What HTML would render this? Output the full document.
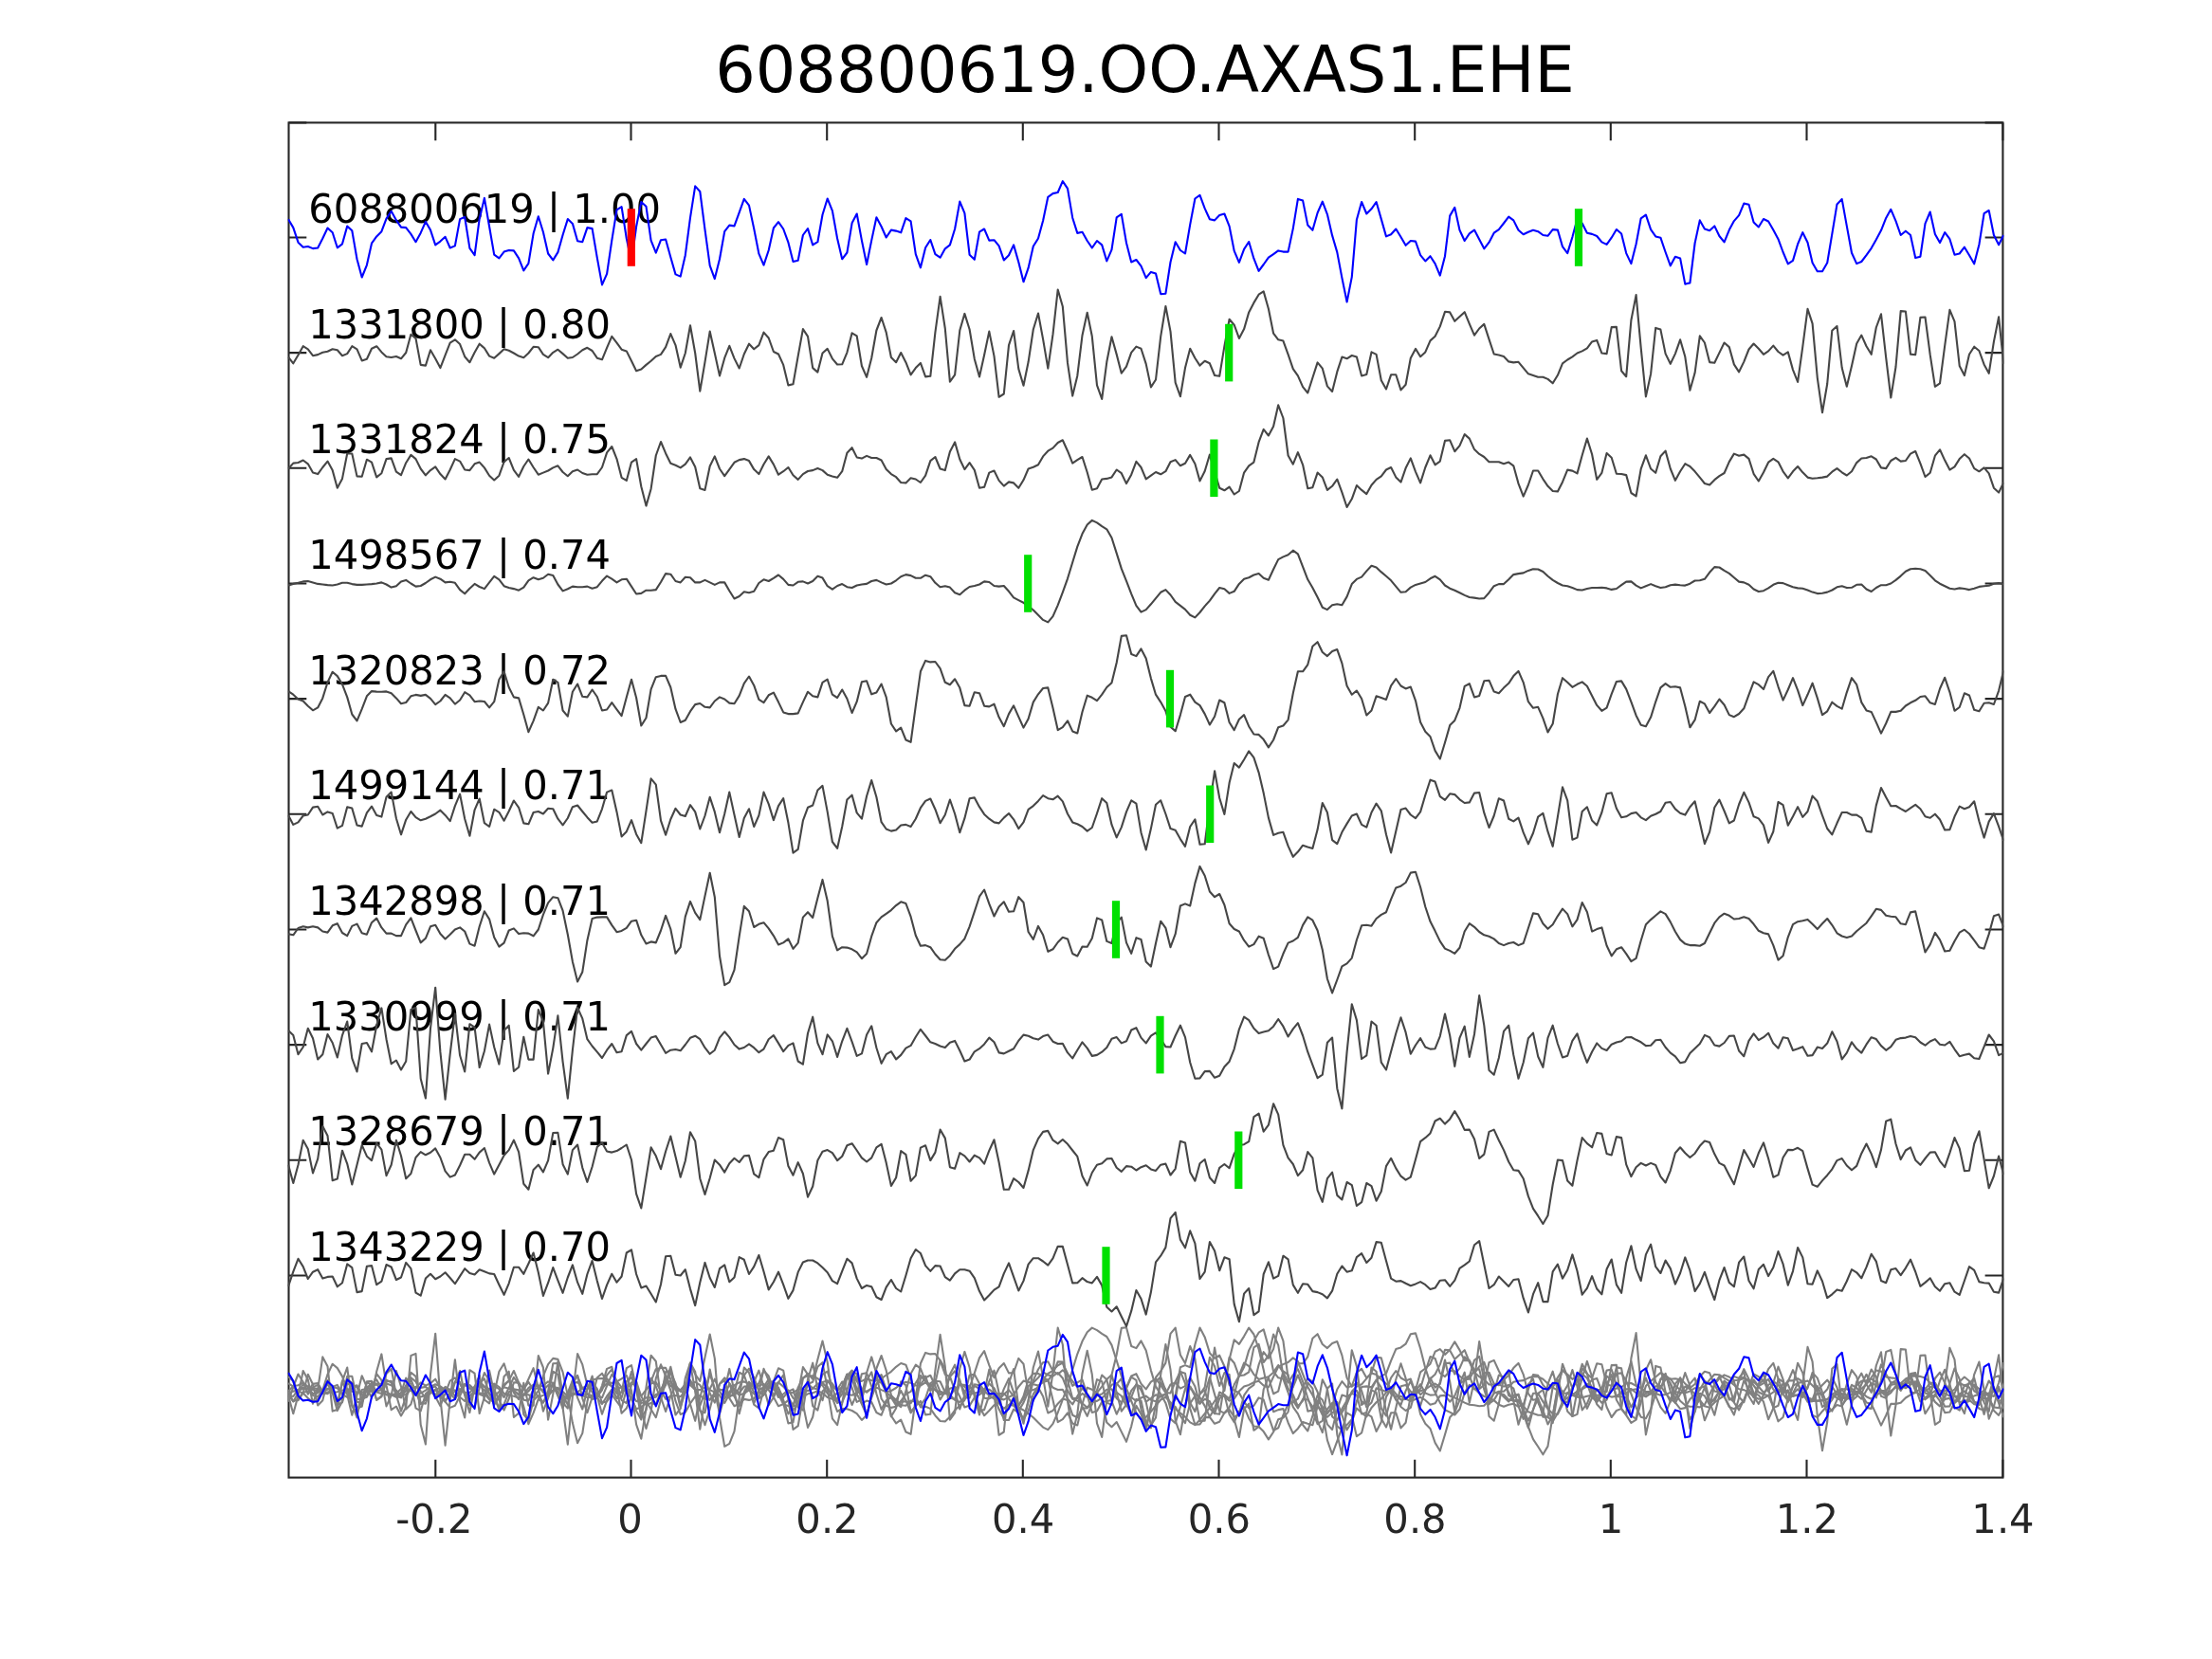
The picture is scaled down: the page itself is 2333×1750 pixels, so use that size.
<!DOCTYPE html><html><head><meta charset="utf-8"><title>608800619.OO.AXAS1.EHE</title><style>html,body{margin:0;padding:0;background:#fff}svg{display:block;will-change:transform}text{font-family:"DejaVu Sans","Liberation Sans",sans-serif}</style></head><body>
<svg width="2333" height="1750" viewBox="0 0 2333 1750">
<rect width="2333" height="1750" fill="#fff"/>
<defs><clipPath id="ax"><rect x="303.5" y="129.4" width="1809.9" height="1429.2"/></clipPath></defs>
<g stroke="#262626" stroke-width="2.1" fill="none">
<rect x="304.5" y="129.4" width="1807.9" height="1429.2"/>
<path d="M459.3 1558.6v-18.8M459.3 129.4v18.8"/>
<path d="M665.5 1558.6v-18.8M665.5 129.4v18.8"/>
<path d="M872.2 1558.6v-18.8M872.2 129.4v18.8"/>
<path d="M1078.8 1558.6v-18.8M1078.8 129.4v18.8"/>
<path d="M1285.5 1558.6v-18.8M1285.5 129.4v18.8"/>
<path d="M1492.2 1558.6v-18.8M1492.2 129.4v18.8"/>
<path d="M1698.8 1558.6v-18.8M1698.8 129.4v18.8"/>
<path d="M1905.5 1558.6v-18.8M1905.5 129.4v18.8"/>
<path d="M2112.4 1558.6v-18.8M2112.4 129.4v18.8"/>
<path d="M304.5 250.5h18.8M2112.4 250.5h-18.8"/>
<path d="M304.5 372.1h18.8M2112.4 372.1h-18.8"/>
<path d="M304.5 493.8h18.8M2112.4 493.8h-18.8"/>
<path d="M304.5 615.5h18.8M2112.4 615.5h-18.8"/>
<path d="M304.5 737.1h18.8M2112.4 737.1h-18.8"/>
<path d="M304.5 858.8h18.8M2112.4 858.8h-18.8"/>
<path d="M304.5 980.5h18.8M2112.4 980.5h-18.8"/>
<path d="M304.5 1102.1h18.8M2112.4 1102.1h-18.8"/>
<path d="M304.5 1223.8h18.8M2112.4 1223.8h-18.8"/>
<path d="M304.5 1345.5h18.8M2112.4 1345.5h-18.8"/>
<path d="M304.5 129.4h18.8M2112.4 129.4h-18.8"/>
</g>
<g font-size="41.67" fill="#000">
<text transform="translate(325.2,234.9) scale(1,1.015)" xml:space="preserve">608800619 | 1.00</text>
<text transform="translate(325.2,356.5) scale(1,1.015)" xml:space="preserve">1331800 | 0.80</text>
<text transform="translate(325.2,478.2) scale(1,1.015)" xml:space="preserve">1331824 | 0.75</text>
<text transform="translate(325.2,599.9) scale(1,1.015)" xml:space="preserve">1498567 | 0.74</text>
<text transform="translate(325.2,721.5) scale(1,1.015)" xml:space="preserve">1320823 | 0.72</text>
<text transform="translate(325.2,843.2) scale(1,1.015)" xml:space="preserve">1499144 | 0.71</text>
<text transform="translate(325.2,964.9) scale(1,1.015)" xml:space="preserve">1342898 | 0.71</text>
<text transform="translate(325.2,1086.5) scale(1,1.015)" xml:space="preserve">1330999 | 0.71</text>
<text transform="translate(325.2,1208.2) scale(1,1.015)" xml:space="preserve">1328679 | 0.71</text>
<text transform="translate(325.2,1329.9) scale(1,1.015)" xml:space="preserve">1343229 | 0.70</text>
</g>
<g fill="none" stroke-linejoin="round" clip-path="url(#ax)" stroke-width="2.1">
<polyline stroke="#808080" points="304.1,1478.6 309.3,1463.0 314.5,1449.5 319.7,1457.8 324.8,1470.7 330.0,1463.4 335.2,1460.9 340.3,1470.3 345.5,1468.6 350.7,1468.2 355.8,1479.0 361.0,1474.9 366.2,1455.1 371.3,1458.8 376.5,1484.8 381.7,1483.8 386.9,1457.4 392.0,1456.8 397.2,1476.9 402.4,1473.4 407.5,1455.7 412.7,1458.2 417.9,1471.7 423.0,1469.2 428.2,1453.6 433.4,1459.9 438.5,1485.3 443.7,1488.4 448.9,1470.3 454.0,1465.5 459.2,1470.9 464.4,1468.2 469.6,1464.0 474.7,1469.7 479.9,1475.9 485.1,1467.8 490.2,1459.9 495.4,1464.7 500.6,1466.1 505.7,1460.9 510.9,1463.0 516.1,1465.1 521.2,1465.7 526.4,1476.9 531.6,1487.5 536.7,1475.5 541.9,1458.4 547.1,1458.4 552.3,1465.5 557.4,1454.7 562.6,1443.2 567.8,1464.0 572.9,1488.6 578.1,1474.9 583.3,1458.8 588.4,1472.4 593.6,1485.5 598.8,1469.2 603.9,1456.1 609.1,1474.4 614.3,1486.5 619.4,1465.7 624.6,1451.6 629.8,1472.8 635.0,1491.7 640.1,1477.1 645.3,1465.5 650.5,1474.4 655.6,1468.2 660.8,1443.2 666.0,1440.1 671.1,1465.7 676.3,1480.1 681.5,1478.2 686.6,1486.5 691.8,1495.2 697.0,1476.5 702.1,1447.0 707.3,1446.4 712.5,1466.5 717.7,1467.2 722.8,1460.9 728.0,1481.3 733.2,1498.8 738.3,1474.4 743.5,1453.6 748.7,1469.7 753.8,1479.6 759.0,1459.9 764.2,1456.1 769.3,1474.0 774.5,1469.2 779.7,1447.8 784.8,1450.5 790.0,1465.7 795.2,1457.8 800.4,1445.7 805.5,1463.0 810.7,1482.1 815.9,1474.0 821.0,1463.4 826.2,1476.9 831.4,1491.5 836.5,1482.8 841.7,1463.6 846.9,1453.2 852.0,1451.2 857.2,1451.2 862.4,1454.1 867.5,1458.8 872.7,1464.0 877.9,1472.8 883.1,1475.9 888.2,1462.6 893.4,1449.5 898.6,1454.1 903.7,1470.3 908.9,1480.7 914.1,1477.6 919.2,1479.0 924.4,1490.0 929.6,1492.7 934.7,1479.6 939.9,1471.7 945.1,1480.7 950.2,1484.2 955.4,1467.2 960.6,1448.9 965.8,1439.7 970.9,1443.7 976.1,1456.8 981.3,1462.6 986.4,1456.8 991.6,1457.2 996.8,1468.8 1001.9,1472.4 1007.1,1465.1 1012.3,1460.9 1017.4,1460.9 1022.6,1462.4 1027.8,1469.9 1033.0,1483.8 1038.1,1493.2 1043.3,1488.0 1048.5,1482.3 1053.6,1479.0 1058.8,1465.1 1064.0,1454.1 1069.1,1468.6 1074.3,1483.2 1079.5,1472.8 1084.6,1455.3 1089.8,1448.9 1095.0,1448.9 1100.1,1452.2 1105.3,1456.3 1110.5,1449.1 1115.7,1436.4 1120.8,1436.6 1126.0,1455.7 1131.2,1475.1 1136.3,1474.9 1141.5,1469.9 1146.7,1473.8 1151.8,1475.1 1157.0,1468.6 1162.2,1477.6 1167.3,1500.4 1172.5,1505.2 1177.7,1500.0 1182.8,1510.4 1188.0,1520.8 1193.2,1504.6 1198.4,1482.8 1203.5,1491.7 1208.7,1508.3 1213.9,1484.8 1219.0,1453.0 1224.2,1446.4 1229.4,1437.6 1234.5,1406.9 1239.7,1400.6 1244.9,1429.3 1250.0,1438.0 1255.2,1420.0 1260.4,1433.3 1265.5,1470.7 1270.7,1463.4 1275.9,1431.8 1281.1,1441.2 1286.2,1462.0 1291.4,1448.0 1296.6,1449.9 1301.7,1497.3 1306.9,1516.0 1312.1,1486.3 1317.2,1480.7 1322.4,1508.8 1327.6,1505.0 1332.7,1465.7 1337.9,1453.0 1343.1,1470.3 1348.2,1467.6 1353.4,1446.4 1358.6,1450.1 1363.8,1477.1 1368.9,1485.5 1374.1,1475.9 1379.3,1476.5 1384.4,1483.8 1389.6,1484.8 1394.8,1486.9 1399.9,1491.1 1405.1,1483.4 1410.3,1465.5 1415.4,1457.2 1420.6,1463.4 1425.8,1462.0 1430.9,1447.8 1436.1,1443.9 1441.3,1453.6 1446.5,1448.4 1451.6,1431.8 1456.8,1432.4 1462.0,1451.6 1467.1,1470.3 1472.3,1473.4 1477.5,1472.8 1482.6,1475.5 1487.8,1478.0 1493.0,1476.1 1498.1,1473.8 1503.3,1476.9 1508.5,1481.7 1513.6,1480.3 1518.8,1472.4 1524.0,1471.9 1529.2,1478.6 1534.3,1472.4 1539.5,1459.5 1544.7,1456.1 1549.8,1452.2 1555.0,1434.9 1560.2,1430.8 1565.3,1455.7 1570.5,1480.7 1575.7,1476.9 1580.8,1468.2 1586.0,1473.4 1591.2,1478.6 1596.3,1471.7 1601.5,1470.9 1606.7,1491.1 1611.9,1506.1 1617.0,1486.9 1622.2,1474.9 1627.4,1494.8 1632.5,1494.8 1637.7,1463.0 1642.9,1455.3 1648.0,1470.3 1653.2,1461.5 1658.4,1445.1 1663.5,1462.5 1668.7,1487.4 1673.9,1480.6 1679.1,1467.8 1684.2,1481.2 1689.4,1487.0 1694.6,1460.4 1699.7,1450.2 1704.9,1476.8 1710.1,1485.5 1715.2,1453.4 1720.4,1436.0 1725.6,1460.4 1730.7,1472.7 1735.9,1445.1 1741.1,1434.3 1746.2,1457.9 1751.4,1464.7 1756.6,1451.3 1761.8,1459.8 1766.9,1476.3 1772.1,1464.7 1777.3,1448.1 1782.4,1461.9 1787.6,1483.8 1792.8,1475.9 1797.9,1463.6 1803.1,1479.1 1808.3,1492.7 1813.4,1472.1 1818.6,1458.7 1823.8,1474.6 1828.9,1478.9 1834.1,1453.4 1839.3,1447.2 1844.5,1472.7 1849.6,1481.0 1854.8,1460.8 1860.0,1455.5 1865.1,1467.8 1870.3,1458.7 1875.5,1441.7 1880.6,1455.1 1885.8,1477.4 1891.0,1462.5 1896.1,1437.7 1901.3,1448.1 1906.5,1475.9 1911.6,1476.3 1916.8,1462.1 1922.0,1473.2 1927.2,1490.8 1932.3,1487.0 1937.5,1482.1 1942.7,1483.4 1947.8,1473.2 1953.0,1460.8 1958.2,1464.0 1963.3,1470.0 1968.5,1458.3 1973.7,1444.5 1978.8,1452.3 1984.0,1472.7 1989.2,1474.9 1994.3,1461.0 1999.5,1459.8 2004.7,1466.8 2009.9,1459.3 2015.0,1450.4 2020.2,1463.2 2025.4,1478.5 2030.5,1474.6 2035.7,1470.0 2040.9,1478.9 2046.0,1483.4 2051.2,1475.9 2056.4,1474.9 2061.5,1484.4 2066.7,1487.6 2071.9,1472.7 2077.0,1457.9 2082.2,1461.5 2087.4,1473.8 2092.6,1474.9 2097.7,1475.3 2102.9,1484.4 2108.1,1485.3 2113.2,1470.0"/>
<polyline stroke="#808080" points="304.1,1472.0 309.3,1491.3 314.5,1472.0 319.7,1446.0 324.8,1455.3 330.0,1480.7 335.2,1465.7 340.3,1431.4 345.5,1441.2 350.7,1488.6 355.8,1486.9 361.0,1457.0 366.2,1470.9 371.3,1492.8 376.5,1472.0 381.7,1451.2 386.9,1463.0 392.0,1467.4 397.2,1449.1 402.4,1455.9 407.5,1483.4 412.7,1472.0 417.9,1446.0 423.0,1462.6 428.2,1486.5 433.4,1481.3 438.5,1464.3 443.7,1458.4 448.9,1461.6 454.0,1459.1 459.2,1454.7 464.4,1464.3 469.6,1478.6 474.7,1484.9 479.9,1482.8 485.1,1472.6 490.2,1461.1 495.4,1461.1 500.6,1466.1 505.7,1458.9 510.9,1454.3 516.1,1469.9 521.2,1481.9 526.4,1472.0 531.6,1462.0 536.7,1456.4 541.9,1446.0 547.1,1458.4 552.3,1492.1 557.4,1498.0 562.6,1477.2 567.8,1472.0 572.9,1479.7 578.1,1467.4 583.3,1438.3 588.4,1438.1 593.6,1471.5 598.8,1481.9 603.9,1456.4 609.1,1450.8 614.3,1475.1 619.4,1490.1 624.6,1474.0 629.8,1453.2 635.0,1448.7 640.1,1457.8 645.3,1458.9 650.5,1457.4 655.6,1454.3 660.8,1450.8 666.0,1466.8 671.1,1502.7 676.3,1517.7 681.5,1485.5 686.6,1453.7 691.8,1462.6 697.0,1476.5 702.1,1457.8 707.3,1441.8 712.5,1463.2 717.7,1485.1 722.8,1467.8 728.0,1437.6 733.2,1447.0 738.3,1486.5 743.5,1503.2 748.7,1486.1 753.8,1466.8 759.0,1472.0 764.2,1479.9 769.3,1470.5 774.5,1465.1 779.7,1469.3 784.8,1462.6 790.0,1462.2 795.2,1481.7 800.4,1485.5 805.5,1466.1 810.7,1458.4 815.9,1457.0 821.0,1443.3 826.2,1445.6 831.4,1473.4 836.5,1483.0 841.7,1469.5 846.9,1481.3 852.0,1505.9 857.2,1494.8 862.4,1467.2 867.5,1458.0 872.7,1456.4 877.9,1459.5 883.1,1467.4 888.2,1463.0 893.4,1451.6 898.6,1449.5 903.7,1456.8 908.9,1464.7 914.1,1468.8 919.2,1464.7 924.4,1453.7 929.6,1450.1 934.7,1469.9 939.9,1494.2 945.1,1485.5 950.2,1457.4 955.4,1461.1 960.6,1489.0 965.8,1483.4 970.9,1453.9 976.1,1451.6 981.3,1467.4 986.4,1458.9 991.6,1434.9 996.8,1443.9 1001.9,1474.5 1007.1,1476.1 1012.3,1459.5 1017.4,1462.6 1022.6,1468.8 1027.8,1462.0 1033.0,1464.7 1038.1,1470.9 1043.3,1457.0 1048.5,1445.6 1053.6,1469.3 1058.8,1498.0 1064.0,1498.0 1069.1,1486.5 1074.3,1490.3 1079.5,1496.3 1084.6,1478.2 1089.8,1456.4 1095.0,1444.5 1100.1,1437.2 1105.3,1436.2 1110.5,1446.0 1115.7,1449.7 1120.8,1445.3 1126.0,1450.1 1131.2,1456.8 1136.3,1463.2 1141.5,1483.8 1146.7,1493.8 1151.8,1480.3 1157.0,1472.0 1162.2,1470.5 1167.3,1465.7 1172.5,1465.3 1177.7,1475.1 1182.8,1479.2 1188.0,1473.4 1193.2,1474.0 1198.4,1477.8 1203.5,1474.5 1208.7,1472.6 1213.9,1476.7 1219.0,1478.2 1224.2,1472.0 1229.4,1470.9 1234.5,1482.8 1239.7,1476.1 1244.9,1447.0 1250.0,1448.7 1255.2,1479.7 1260.4,1489.0 1265.5,1470.5 1270.7,1466.3 1275.9,1485.5 1281.1,1491.3 1286.2,1475.1 1291.4,1471.3 1296.6,1475.5 1301.7,1460.5 1306.9,1451.2 1312.1,1450.5 1317.2,1447.4 1322.4,1421.4 1327.6,1417.9 1332.7,1437.0 1337.9,1430.0 1343.1,1407.5 1348.2,1418.9 1353.4,1451.2 1358.6,1464.7 1363.8,1471.3 1368.9,1483.4 1374.1,1477.6 1379.3,1458.4 1384.4,1464.7 1389.6,1499.0 1394.8,1511.1 1399.9,1486.5 1405.1,1479.9 1410.3,1504.2 1415.4,1508.8 1420.6,1490.3 1425.8,1493.4 1430.9,1515.2 1436.1,1511.5 1441.3,1491.3 1446.5,1494.4 1451.6,1510.0 1456.8,1500.0 1462.0,1473.4 1467.1,1465.1 1472.3,1475.7 1477.5,1484.0 1482.6,1488.0 1487.8,1484.9 1493.0,1466.3 1498.1,1447.4 1503.3,1443.5 1508.5,1438.7 1513.6,1425.8 1518.8,1423.1 1524.0,1428.9 1529.2,1423.7 1534.3,1415.4 1539.5,1424.1 1544.7,1435.2 1549.8,1434.9 1555.0,1444.9 1560.2,1465.3 1565.3,1460.9 1570.5,1437.2 1575.7,1434.9 1580.8,1446.0 1586.0,1456.4 1591.2,1468.8 1596.3,1477.6 1601.5,1478.2 1606.7,1486.5 1611.9,1505.2 1617.0,1518.1 1622.2,1526.0 1627.4,1534.3 1632.5,1525.6 1637.7,1492.8 1642.9,1466.8 1648.0,1467.4 1653.2,1488.7 1658.4,1494.0 1663.5,1467.4 1668.7,1443.4 1673.9,1449.4 1679.1,1453.6 1684.2,1438.3 1689.4,1439.2 1694.6,1460.4 1699.7,1461.7 1704.9,1442.4 1710.1,1443.4 1715.2,1471.7 1720.4,1484.4 1725.6,1474.5 1730.7,1470.2 1735.9,1472.8 1741.1,1470.2 1746.2,1472.3 1751.4,1484.4 1756.6,1490.8 1761.8,1478.1 1766.9,1459.6 1772.1,1453.6 1777.3,1459.6 1782.4,1464.3 1787.6,1460.0 1792.8,1452.1 1797.9,1446.8 1803.1,1448.3 1808.3,1460.6 1813.4,1470.2 1818.6,1472.8 1823.8,1483.0 1828.9,1492.5 1834.1,1474.5 1839.3,1456.4 1844.5,1465.3 1849.6,1474.2 1854.8,1459.6 1860.0,1448.7 1865.1,1465.3 1870.3,1485.1 1875.5,1482.7 1880.6,1464.3 1885.8,1456.2 1891.0,1456.4 1896.1,1454.1 1901.3,1457.5 1906.5,1475.9 1911.6,1492.9 1916.8,1495.1 1922.0,1488.7 1927.2,1483.0 1932.3,1476.6 1937.5,1467.4 1942.7,1465.3 1947.8,1472.8 1953.0,1477.6 1958.2,1473.2 1963.3,1460.0 1968.5,1449.8 1973.7,1460.4 1978.8,1474.5 1984.0,1456.2 1989.2,1426.0 1994.3,1423.9 1999.5,1449.8 2004.7,1466.4 2009.9,1456.8 2015.0,1453.6 2020.2,1467.0 2025.4,1472.1 2030.5,1465.3 2035.7,1458.9 2040.9,1458.5 2046.0,1468.1 2051.2,1474.5 2056.4,1459.4 2061.5,1443.4 2066.7,1454.7 2071.9,1478.5 2077.0,1478.1 2082.2,1449.8 2087.4,1436.6 2092.6,1466.4 2097.7,1496.6 2102.9,1483.8 2108.1,1462.8 2113.2,1482.3"/>
<polyline stroke="#808080" points="304.1,1451.9 309.3,1457.1 314.5,1477.2 319.7,1469.5 324.8,1449.8 330.0,1460.2 335.2,1482.4 340.3,1477.2 345.5,1456.0 350.7,1465.0 355.8,1480.4 361.0,1457.1 366.2,1442.5 371.3,1481.4 376.5,1495.5 381.7,1466.0 386.9,1465.0 392.0,1474.3 397.2,1446.7 402.4,1428.4 407.5,1461.2 412.7,1487.2 417.9,1483.5 423.0,1493.5 428.2,1484.5 433.4,1430.0 438.5,1427.9 443.7,1502.8 448.9,1523.6 454.0,1449.8 459.2,1406.7 464.4,1474.7 469.6,1524.7 474.7,1476.8 479.9,1434.2 485.1,1478.3 490.2,1495.5 495.4,1445.2 500.6,1448.7 505.7,1491.0 510.9,1473.7 516.1,1445.6 521.2,1469.5 526.4,1487.6 531.6,1451.9 536.7,1446.7 541.9,1494.9 547.1,1490.8 552.3,1458.7 557.4,1482.6 562.6,1482.6 567.8,1430.0 572.9,1442.5 578.1,1497.6 583.3,1470.6 588.4,1436.3 593.6,1485.1 598.8,1523.6 603.9,1472.7 609.1,1428.0 614.3,1439.4 619.4,1461.2 624.6,1468.5 629.8,1474.7 635.0,1481.0 640.1,1472.7 645.3,1466.0 650.5,1475.2 655.6,1474.3 660.8,1457.1 666.0,1452.9 671.1,1466.0 676.3,1472.7 681.5,1466.0 686.6,1459.6 691.8,1458.1 697.0,1467.0 702.1,1475.8 707.3,1472.7 712.5,1472.0 717.7,1473.3 722.8,1467.0 728.0,1459.8 733.2,1457.7 738.3,1461.2 743.5,1470.2 748.7,1476.8 753.8,1472.7 759.0,1459.6 764.2,1453.3 769.3,1459.1 774.5,1467.0 779.7,1471.6 784.8,1470.0 790.0,1466.4 795.2,1470.2 800.4,1475.2 805.5,1471.6 810.7,1461.2 815.9,1457.1 821.0,1465.4 826.2,1474.1 831.4,1467.9 836.5,1465.4 841.7,1484.5 846.9,1487.6 852.0,1455.0 857.2,1437.7 862.4,1465.4 867.5,1477.2 872.7,1456.4 877.9,1463.3 883.1,1479.9 888.2,1463.3 893.4,1449.8 898.6,1463.9 903.7,1478.9 908.9,1476.4 914.1,1456.6 919.2,1447.3 924.4,1470.2 929.6,1486.8 934.7,1477.2 939.9,1474.1 945.1,1482.4 950.2,1477.9 955.4,1470.6 960.6,1467.9 965.8,1458.7 970.9,1450.8 976.1,1457.5 981.3,1464.3 986.4,1466.0 991.6,1468.5 996.8,1470.0 1001.9,1464.8 1007.1,1462.9 1012.3,1473.3 1017.4,1484.5 1022.6,1482.6 1027.8,1474.3 1033.0,1471.2 1038.1,1466.4 1043.3,1459.6 1048.5,1464.3 1053.6,1475.4 1058.8,1476.4 1064.0,1473.7 1069.1,1471.2 1074.3,1462.7 1079.5,1456.6 1084.6,1457.7 1089.8,1460.2 1095.0,1461.6 1100.1,1458.1 1105.3,1456.6 1110.5,1463.7 1115.7,1466.0 1120.8,1465.8 1126.0,1475.4 1131.2,1481.4 1136.3,1472.7 1141.5,1464.3 1146.7,1470.6 1151.8,1478.9 1157.0,1477.9 1162.2,1474.7 1167.3,1470.0 1172.5,1460.8 1177.7,1459.1 1182.8,1465.4 1188.0,1463.3 1193.2,1451.5 1198.4,1449.2 1203.5,1459.6 1208.7,1465.4 1213.9,1457.7 1219.0,1454.4 1224.2,1461.2 1229.4,1469.1 1234.5,1469.5 1239.7,1457.5 1244.9,1446.7 1250.0,1459.1 1255.2,1485.8 1260.4,1502.8 1265.5,1502.4 1270.7,1495.1 1275.9,1494.9 1281.1,1501.8 1286.2,1499.7 1291.4,1490.3 1296.6,1484.7 1301.7,1471.6 1306.9,1450.8 1312.1,1437.7 1317.2,1441.1 1322.4,1449.8 1327.6,1455.0 1332.7,1453.5 1337.9,1452.3 1343.1,1447.7 1348.2,1440.0 1353.4,1447.7 1358.6,1458.5 1363.8,1450.4 1368.9,1444.2 1374.1,1457.5 1379.3,1474.7 1384.4,1488.3 1389.6,1502.2 1394.8,1498.7 1399.9,1464.8 1405.1,1459.6 1410.3,1513.2 1415.4,1534.4 1420.6,1474.7 1425.8,1424.2 1430.9,1441.1 1436.1,1482.0 1441.3,1478.3 1446.5,1442.5 1451.6,1446.7 1456.8,1485.6 1462.0,1493.5 1467.1,1474.3 1472.3,1455.0 1477.5,1438.3 1482.6,1453.9 1487.8,1476.8 1493.0,1467.5 1498.1,1460.2 1503.3,1469.5 1508.5,1471.6 1513.6,1471.2 1518.8,1458.1 1524.0,1434.6 1529.2,1457.5 1534.3,1489.9 1539.5,1459.8 1544.7,1447.7 1549.8,1479.9 1555.0,1456.0 1560.2,1415.1 1565.3,1446.7 1570.5,1493.9 1575.7,1498.7 1580.8,1481.0 1586.0,1452.9 1591.2,1446.7 1596.3,1477.9 1601.5,1502.8 1606.7,1485.8 1611.9,1460.2 1617.0,1454.6 1622.2,1479.5 1627.4,1490.8 1632.5,1459.8 1637.7,1446.7 1642.9,1466.0 1648.0,1480.4 1653.2,1478.8 1658.4,1462.8 1663.5,1455.4 1668.7,1472.4 1673.9,1485.8 1679.1,1474.5 1684.2,1465.4 1689.4,1470.9 1694.6,1473.0 1699.7,1466.7 1704.9,1464.5 1710.1,1463.3 1715.2,1459.2 1720.4,1459.0 1725.6,1461.8 1730.7,1464.3 1735.9,1468.1 1741.1,1467.7 1746.2,1462.2 1751.4,1461.8 1756.6,1469.8 1761.8,1475.6 1766.9,1479.4 1772.1,1486.2 1777.3,1485.1 1782.4,1476.0 1787.6,1470.9 1792.8,1466.0 1797.9,1456.9 1803.1,1459.2 1808.3,1467.5 1813.4,1468.6 1818.6,1465.0 1823.8,1457.9 1828.9,1457.5 1834.1,1473.5 1839.3,1479.2 1844.5,1462.8 1849.6,1455.4 1854.8,1462.2 1860.0,1459.2 1865.1,1454.8 1870.3,1465.6 1875.5,1470.7 1880.6,1459.2 1885.8,1460.3 1891.0,1473.0 1896.1,1471.3 1901.3,1469.2 1906.5,1478.8 1911.6,1478.1 1916.8,1469.6 1922.0,1470.9 1927.2,1465.6 1932.3,1453.3 1937.5,1463.5 1942.7,1482.4 1947.8,1475.6 1953.0,1464.3 1958.2,1471.3 1963.3,1475.6 1968.5,1466.7 1973.7,1459.2 1978.8,1461.1 1984.0,1468.1 1989.2,1472.8 1994.3,1469.2 1999.5,1461.8 2004.7,1460.1 2009.9,1459.6 2015.0,1457.9 2020.2,1459.2 2025.4,1464.5 2030.5,1467.7 2035.7,1463.5 2040.9,1461.1 2046.0,1466.7 2051.2,1467.5 2056.4,1463.9 2061.5,1471.8 2066.7,1479.2 2071.9,1477.7 2077.0,1476.6 2082.2,1481.3 2087.4,1482.0 2092.6,1469.2 2097.7,1456.5 2102.9,1463.3 2108.1,1478.1 2113.2,1475.6"/>
<polyline stroke="#808080" points="304.1,1471.9 309.3,1473.0 314.5,1465.7 319.7,1464.0 324.8,1465.1 330.0,1464.0 335.2,1465.1 340.3,1469.2 345.5,1470.3 350.7,1463.0 355.8,1460.9 361.0,1470.7 366.2,1473.8 371.3,1463.6 376.5,1461.3 381.7,1470.9 386.9,1472.4 392.0,1459.9 397.2,1455.3 402.4,1465.1 407.5,1471.3 412.7,1471.3 417.9,1473.8 423.0,1473.8 428.2,1462.0 433.4,1455.1 438.5,1468.2 443.7,1481.1 448.9,1476.5 454.0,1464.0 459.2,1462.4 464.4,1471.7 469.6,1477.1 474.7,1472.4 479.9,1467.2 485.1,1465.1 490.2,1469.2 495.4,1482.3 500.6,1484.4 505.7,1464.0 510.9,1448.0 516.1,1456.3 521.2,1475.5 526.4,1485.3 531.6,1481.3 536.7,1468.2 541.9,1466.1 547.1,1471.7 552.3,1470.9 557.4,1471.3 562.6,1474.0 567.8,1467.2 572.9,1451.6 578.1,1439.1 583.3,1432.9 588.4,1433.9 593.6,1447.4 598.8,1472.4 603.9,1501.1 609.1,1522.3 614.3,1511.9 619.4,1478.6 624.6,1455.7 629.8,1454.3 635.0,1454.1 640.1,1454.1 645.3,1462.6 650.5,1469.9 655.6,1468.6 660.8,1465.5 666.0,1458.4 671.1,1457.4 676.3,1473.0 681.5,1482.1 686.6,1480.1 691.8,1481.1 697.0,1468.2 702.1,1452.6 707.3,1466.7 712.5,1492.5 717.7,1485.9 722.8,1453.6 728.0,1437.6 733.2,1449.5 738.3,1456.8 743.5,1431.8 748.7,1407.5 753.8,1432.9 759.0,1495.2 764.2,1525.8 769.3,1522.9 774.5,1509.8 779.7,1474.4 784.8,1442.6 790.0,1448.0 795.2,1464.7 800.4,1461.5 805.5,1459.9 810.7,1466.1 815.9,1473.8 821.0,1483.2 826.2,1481.1 831.4,1477.1 836.5,1487.5 841.7,1481.3 846.9,1454.3 852.0,1448.9 857.2,1454.7 862.4,1433.9 867.5,1414.6 872.7,1437.0 877.9,1474.4 883.1,1489.0 888.2,1485.9 893.4,1486.3 898.6,1488.0 903.7,1491.1 908.9,1497.9 914.1,1492.7 919.2,1474.4 924.4,1459.9 929.6,1454.1 934.7,1450.5 939.9,1446.8 945.1,1441.8 950.2,1438.0 955.4,1439.7 960.6,1453.6 965.8,1473.4 970.9,1484.4 976.1,1483.8 981.3,1485.9 986.4,1493.2 991.6,1499.0 996.8,1499.4 1001.9,1494.6 1007.1,1487.5 1012.3,1482.8 1017.4,1476.9 1022.6,1464.0 1027.8,1448.4 1033.0,1432.4 1038.1,1425.2 1043.3,1440.1 1048.5,1453.2 1053.6,1443.2 1058.8,1438.0 1064.0,1448.4 1069.1,1448.0 1074.3,1432.9 1079.5,1438.7 1084.6,1469.7 1089.8,1477.6 1095.0,1463.6 1100.1,1473.0 1105.3,1490.5 1110.5,1488.0 1115.7,1480.7 1120.8,1475.5 1126.0,1477.1 1131.2,1492.7 1136.3,1495.2 1141.5,1485.3 1146.7,1485.5 1151.8,1476.5 1157.0,1455.1 1162.2,1457.2 1167.3,1479.6 1172.5,1481.7 1177.7,1459.9 1182.8,1454.3 1188.0,1481.1 1193.2,1492.5 1198.4,1475.9 1203.5,1477.6 1208.7,1501.1 1213.9,1506.3 1219.0,1481.7 1224.2,1458.4 1229.4,1465.5 1234.5,1485.9 1239.7,1471.9 1244.9,1442.2 1250.0,1440.1 1255.2,1442.2 1260.4,1418.3 1265.5,1400.6 1270.7,1410.4 1275.9,1427.2 1281.1,1432.9 1286.2,1429.7 1291.4,1441.2 1296.6,1460.9 1301.7,1466.7 1306.9,1469.2 1312.1,1478.6 1317.2,1485.3 1322.4,1482.8 1327.6,1474.4 1332.7,1476.5 1337.9,1493.8 1343.1,1508.8 1348.2,1506.3 1353.4,1492.7 1358.6,1481.3 1363.8,1479.2 1368.9,1475.5 1374.1,1462.6 1379.3,1454.1 1384.4,1457.4 1389.6,1468.2 1394.8,1488.6 1399.9,1519.2 1405.1,1534.1 1410.3,1520.2 1415.4,1506.1 1420.6,1503.1 1425.8,1497.3 1430.9,1478.2 1436.1,1463.0 1441.3,1462.4 1446.5,1463.4 1451.6,1455.7 1456.8,1451.6 1462.0,1448.9 1467.1,1435.3 1472.3,1423.1 1477.5,1421.4 1482.6,1417.7 1487.8,1407.3 1493.0,1406.4 1498.1,1422.5 1503.3,1443.2 1508.5,1458.8 1513.6,1468.8 1518.8,1479.6 1524.0,1487.3 1529.2,1489.6 1534.3,1492.5 1539.5,1486.5 1544.7,1469.2 1549.8,1460.9 1555.0,1464.5 1560.2,1469.7 1565.3,1473.0 1570.5,1474.4 1575.7,1477.1 1580.8,1481.7 1586.0,1483.8 1591.2,1481.7 1596.3,1480.7 1601.5,1483.8 1606.7,1481.7 1611.9,1465.7 1617.0,1450.1 1622.2,1450.9 1627.4,1460.9 1632.5,1466.5 1637.7,1462.0 1642.9,1453.0 1648.0,1445.3 1653.2,1450.8 1658.4,1464.0 1663.5,1456.8 1668.7,1438.7 1673.9,1448.7 1679.1,1469.3 1684.2,1466.8 1689.4,1465.1 1694.6,1484.2 1699.7,1495.0 1704.9,1488.0 1710.1,1485.9 1715.2,1492.9 1720.4,1500.8 1725.6,1497.6 1730.7,1478.9 1735.9,1461.9 1741.1,1456.8 1746.2,1452.5 1751.4,1448.1 1756.6,1450.8 1761.8,1459.3 1766.9,1469.5 1772.1,1477.8 1777.3,1482.3 1782.4,1483.8 1787.6,1483.8 1792.8,1484.4 1797.9,1481.7 1803.1,1471.0 1808.3,1460.4 1813.4,1454.0 1818.6,1450.4 1823.8,1452.5 1828.9,1456.2 1834.1,1455.7 1839.3,1454.0 1844.5,1455.7 1849.6,1461.5 1854.8,1468.5 1860.0,1471.0 1865.1,1472.1 1870.3,1483.8 1875.5,1499.3 1880.6,1495.0 1885.8,1475.3 1891.0,1461.9 1896.1,1458.9 1901.3,1457.9 1906.5,1456.6 1911.6,1461.5 1916.8,1466.8 1922.0,1461.0 1927.2,1455.7 1932.3,1462.5 1937.5,1471.0 1942.7,1474.2 1947.8,1475.7 1953.0,1474.2 1958.2,1468.9 1963.3,1464.7 1968.5,1460.4 1973.7,1453.0 1978.8,1445.5 1984.0,1446.6 1989.2,1452.5 1994.3,1453.4 1999.5,1454.0 2004.7,1461.0 2009.9,1461.9 2015.0,1449.1 2020.2,1448.1 2025.4,1470.0 2030.5,1491.2 2035.7,1483.1 2040.9,1470.6 2046.0,1478.0 2051.2,1490.2 2056.4,1489.5 2061.5,1479.5 2066.7,1470.4 2071.9,1467.4 2077.0,1471.7 2082.2,1478.5 2087.4,1485.9 2092.6,1487.4 2097.7,1472.1 2102.9,1453.0 2108.1,1451.3 2113.2,1464.7"/>
<polyline stroke="#808080" points="304.1,1468.2 309.3,1478.2 314.5,1475.7 319.7,1468.8 324.8,1467.8 330.0,1459.9 335.2,1459.1 340.3,1467.8 345.5,1464.7 350.7,1466.3 355.8,1481.9 361.0,1479.2 366.2,1459.5 371.3,1460.9 376.5,1478.8 381.7,1479.9 386.9,1465.7 392.0,1458.9 397.2,1468.4 402.4,1469.9 407.5,1449.1 412.7,1443.9 417.9,1471.5 423.0,1488.6 428.2,1473.0 433.4,1464.3 438.5,1470.5 443.7,1473.6 448.9,1472.0 454.0,1469.5 459.2,1466.8 464.4,1463.0 469.6,1468.2 474.7,1474.5 479.9,1458.4 485.1,1446.0 490.2,1472.0 495.4,1490.1 500.6,1462.6 505.7,1450.8 510.9,1476.5 516.1,1480.3 521.2,1462.0 526.4,1465.1 531.6,1474.0 536.7,1464.1 541.9,1452.8 547.1,1460.1 552.3,1476.7 557.4,1477.6 562.6,1465.3 567.8,1464.3 572.9,1466.8 578.1,1461.1 583.3,1461.6 588.4,1472.0 593.6,1478.6 598.8,1471.3 603.9,1459.5 609.1,1457.8 614.3,1464.3 619.4,1470.5 624.6,1476.1 629.8,1474.7 635.0,1461.6 640.1,1443.9 645.3,1441.8 650.5,1464.7 655.6,1490.7 660.8,1485.5 666.0,1473.4 671.1,1488.2 676.3,1497.5 681.5,1463.6 686.6,1429.7 691.8,1436.0 697.0,1474.0 702.1,1489.0 707.3,1472.6 712.5,1461.1 717.7,1467.8 722.8,1469.3 728.0,1457.4 733.2,1464.7 738.3,1482.8 743.5,1468.8 748.7,1449.1 753.8,1464.7 759.0,1486.5 764.2,1466.8 769.3,1443.9 774.5,1467.8 779.7,1491.3 784.8,1471.3 790.0,1461.6 795.2,1480.3 800.4,1468.4 805.5,1443.9 810.7,1456.4 815.9,1473.4 821.0,1458.4 826.2,1450.5 831.4,1476.1 836.5,1507.9 841.7,1504.2 846.9,1474.0 852.0,1460.1 857.2,1457.8 862.4,1441.8 867.5,1437.2 872.7,1464.7 877.9,1496.3 883.1,1503.2 888.2,1480.3 893.4,1451.8 898.6,1447.0 903.7,1465.7 908.9,1472.0 914.1,1448.0 919.2,1431.4 924.4,1449.1 929.6,1475.5 934.7,1482.8 939.9,1484.9 945.1,1483.8 950.2,1478.8 955.4,1478.2 960.6,1480.3 965.8,1472.0 970.9,1460.5 976.1,1453.2 981.3,1450.8 986.4,1462.0 991.6,1476.5 996.8,1467.8 1001.9,1451.8 1007.1,1466.8 1012.3,1486.5 1017.4,1471.5 1022.6,1450.5 1027.8,1449.7 1033.0,1459.5 1038.1,1467.2 1043.3,1472.0 1048.5,1475.7 1053.6,1476.7 1058.8,1470.9 1064.0,1466.3 1069.1,1472.6 1074.3,1482.4 1079.5,1475.7 1084.6,1462.2 1089.8,1458.4 1095.0,1453.2 1100.1,1447.4 1105.3,1450.5 1110.5,1451.6 1115.7,1448.0 1120.8,1453.7 1126.0,1466.8 1131.2,1475.7 1136.3,1477.6 1141.5,1480.3 1146.7,1484.9 1151.8,1481.3 1157.0,1466.3 1162.2,1450.5 1167.3,1455.3 1172.5,1478.2 1177.7,1491.7 1182.8,1480.9 1188.0,1464.7 1193.2,1452.6 1198.4,1455.9 1203.5,1486.5 1208.7,1504.8 1213.9,1482.4 1219.0,1457.0 1224.2,1452.6 1229.4,1466.8 1234.5,1482.4 1239.7,1484.0 1244.9,1493.4 1250.0,1501.1 1255.2,1480.3 1260.4,1472.6 1265.5,1499.0 1270.7,1498.6 1275.9,1457.4 1281.1,1421.6 1286.2,1450.1 1291.4,1467.2 1296.6,1434.1 1301.7,1413.3 1306.9,1417.9 1312.1,1409.6 1317.2,1400.6 1322.4,1407.5 1327.6,1423.1 1332.7,1444.9 1337.9,1470.9 1343.1,1489.2 1348.2,1487.1 1353.4,1486.1 1358.6,1500.7 1363.8,1512.1 1368.9,1506.9 1374.1,1500.0 1379.3,1501.7 1384.4,1503.2 1389.6,1483.4 1394.8,1455.3 1399.9,1465.3 1405.1,1494.4 1410.3,1498.4 1415.4,1486.1 1420.6,1477.2 1425.8,1468.8 1430.9,1466.8 1436.1,1478.2 1441.3,1480.9 1446.5,1465.3 1451.6,1455.9 1456.8,1463.6 1462.0,1488.6 1467.1,1507.7 1472.3,1485.1 1477.5,1462.2 1482.6,1460.9 1487.8,1467.8 1493.0,1471.5 1498.1,1464.7 1503.3,1447.0 1508.5,1431.0 1513.6,1432.9 1518.8,1448.5 1524.0,1452.2 1529.2,1445.6 1534.3,1446.4 1539.5,1451.6 1544.7,1455.3 1549.8,1454.7 1555.0,1444.9 1560.2,1444.3 1565.3,1465.7 1570.5,1481.3 1575.7,1468.8 1580.8,1450.5 1586.0,1452.8 1591.2,1472.0 1596.3,1474.7 1601.5,1470.9 1606.7,1486.5 1611.9,1498.6 1617.0,1487.1 1622.2,1469.9 1627.4,1466.1 1632.5,1485.5 1637.7,1501.1 1642.9,1469.9 1648.0,1438.7 1653.2,1452.6 1658.4,1494.0 1663.5,1491.9 1668.7,1464.3 1673.9,1459.6 1679.1,1473.8 1684.2,1478.7 1689.4,1465.3 1694.6,1445.6 1699.7,1444.5 1704.9,1461.1 1710.1,1470.6 1715.2,1469.6 1720.4,1466.4 1725.6,1465.3 1730.7,1470.6 1735.9,1473.4 1741.1,1469.1 1746.2,1467.0 1751.4,1464.3 1756.6,1455.1 1761.8,1454.3 1766.9,1461.7 1772.1,1466.0 1777.3,1467.9 1782.4,1459.6 1787.6,1453.6 1792.8,1475.9 1797.9,1498.3 1803.1,1485.9 1808.3,1460.0 1813.4,1451.9 1818.6,1463.8 1823.8,1476.6 1828.9,1473.8 1834.1,1456.8 1839.3,1444.1 1844.5,1454.7 1849.6,1469.6 1854.8,1471.7 1860.0,1478.7 1865.1,1497.2 1870.3,1485.5 1875.5,1454.3 1880.6,1457.5 1885.8,1479.1 1891.0,1469.6 1896.1,1459.4 1901.3,1470.2 1906.5,1464.3 1911.6,1447.9 1916.8,1453.6 1922.0,1468.5 1927.2,1482.3 1932.3,1488.7 1937.5,1476.6 1942.7,1465.3 1947.8,1465.3 1953.0,1467.9 1958.2,1467.9 1963.3,1471.1 1968.5,1484.9 1973.7,1485.9 1978.8,1457.9 1984.0,1439.4 1989.2,1449.4 1994.3,1458.5 1999.5,1458.3 2004.7,1461.5 2009.9,1464.3 2015.0,1460.6 2020.2,1457.2 2025.4,1461.5 2030.5,1469.6 2035.7,1471.1 2040.9,1467.0 2046.0,1472.8 2051.2,1483.8 2056.4,1483.4 2061.5,1469.6 2066.7,1458.9 2071.9,1461.5 2077.0,1459.6 2082.2,1453.6 2087.4,1474.5 2092.6,1491.9 2097.7,1474.9 2102.9,1466.4 2108.1,1480.2 2113.2,1495.1"/>
<polyline stroke="#808080" points="304.1,1459.1 309.3,1462.7 314.5,1467.5 319.7,1469.5 324.8,1474.7 330.0,1479.3 335.2,1476.4 340.3,1466.4 345.5,1449.8 350.7,1438.8 355.8,1443.1 361.0,1451.9 366.2,1465.4 371.3,1483.5 376.5,1490.3 381.7,1477.9 386.9,1464.3 392.0,1459.1 397.2,1459.6 402.4,1459.8 407.5,1459.4 412.7,1461.2 417.9,1466.4 423.0,1472.2 428.2,1471.0 433.4,1464.3 438.5,1462.9 443.7,1463.9 448.9,1462.9 454.0,1466.8 459.2,1473.1 464.4,1469.5 469.6,1462.9 474.7,1466.4 479.9,1472.7 485.1,1468.5 490.2,1460.2 495.4,1463.3 500.6,1470.2 505.7,1469.5 510.9,1470.0 516.1,1476.4 521.2,1470.2 526.4,1446.7 531.6,1438.3 536.7,1455.0 541.9,1465.4 547.1,1466.4 552.3,1483.7 557.4,1502.2 562.6,1490.3 567.8,1475.8 572.9,1479.5 578.1,1471.6 583.3,1446.7 588.4,1449.8 593.6,1479.5 598.8,1485.6 603.9,1459.8 609.1,1451.5 614.3,1464.8 619.4,1465.4 624.6,1457.5 629.8,1465.0 635.0,1479.5 640.1,1478.5 645.3,1471.2 650.5,1478.3 655.6,1485.1 660.8,1465.4 666.0,1446.7 671.1,1466.0 676.3,1495.5 681.5,1487.2 686.6,1457.1 691.8,1444.2 697.0,1442.9 702.1,1442.9 707.3,1455.0 712.5,1477.9 717.7,1492.0 722.8,1489.7 728.0,1480.4 733.2,1473.1 738.3,1472.0 743.5,1475.8 748.7,1476.4 753.8,1469.5 759.0,1465.4 764.2,1467.5 769.3,1471.6 774.5,1472.2 779.7,1463.9 784.8,1450.8 790.0,1443.5 795.2,1452.9 800.4,1467.9 805.5,1471.2 810.7,1463.3 815.9,1460.6 821.0,1470.6 826.2,1481.4 831.4,1483.1 836.5,1483.1 841.7,1482.4 846.9,1470.6 852.0,1459.8 857.2,1464.3 862.4,1465.4 867.5,1449.8 872.7,1446.7 877.9,1462.7 883.1,1466.0 888.2,1457.5 893.4,1467.0 898.6,1482.0 903.7,1470.2 908.9,1449.2 914.1,1448.3 919.2,1462.3 924.4,1460.6 929.6,1451.5 934.7,1465.4 939.9,1493.5 945.1,1501.4 950.2,1497.6 955.4,1510.5 960.6,1512.8 965.8,1474.7 970.9,1438.3 976.1,1426.9 981.3,1428.4 986.4,1428.0 991.6,1435.2 996.8,1449.8 1001.9,1452.3 1007.1,1446.3 1012.3,1455.6 1017.4,1474.1 1022.6,1474.7 1027.8,1460.2 1033.0,1461.2 1038.1,1474.7 1043.3,1475.4 1048.5,1472.7 1053.6,1486.6 1058.8,1496.2 1064.0,1483.1 1069.1,1474.3 1074.3,1486.2 1079.5,1497.6 1084.6,1488.3 1089.8,1470.6 1095.0,1462.3 1100.1,1456.0 1105.3,1455.4 1110.5,1476.8 1115.7,1500.1 1120.8,1497.2 1126.0,1490.3 1131.2,1501.4 1136.3,1503.4 1141.5,1481.0 1146.7,1463.7 1151.8,1465.8 1157.0,1469.1 1162.2,1462.7 1167.3,1455.0 1172.5,1450.2 1177.7,1429.0 1182.8,1400.9 1188.0,1400.3 1193.2,1420.0 1198.4,1422.1 1203.5,1414.4 1208.7,1424.4 1213.9,1445.6 1219.0,1462.7 1224.2,1470.6 1229.4,1479.9 1234.5,1496.6 1239.7,1501.2 1244.9,1484.1 1250.0,1465.0 1255.2,1462.7 1260.4,1470.6 1265.5,1474.1 1270.7,1483.1 1275.9,1494.5 1281.1,1485.8 1286.2,1468.5 1291.4,1471.2 1296.6,1492.0 1301.7,1500.1 1306.9,1488.7 1312.1,1484.1 1317.2,1496.2 1322.4,1504.5 1327.6,1504.9 1332.7,1510.1 1337.9,1518.4 1343.1,1510.5 1348.2,1497.2 1353.4,1495.5 1358.6,1489.3 1363.8,1461.2 1368.9,1438.3 1374.1,1438.3 1379.3,1431.1 1384.4,1411.7 1389.6,1407.2 1394.8,1418.0 1399.9,1422.1 1405.1,1417.1 1410.3,1415.1 1415.4,1429.6 1420.6,1453.5 1425.8,1462.7 1430.9,1458.5 1436.1,1467.0 1441.3,1484.5 1446.5,1479.5 1451.6,1464.3 1456.8,1466.0 1462.0,1467.9 1467.1,1453.3 1472.3,1446.0 1477.5,1453.5 1482.6,1456.4 1487.8,1454.6 1493.0,1469.1 1498.1,1491.8 1503.3,1501.8 1508.5,1507.0 1513.6,1521.9 1518.8,1530.5 1524.0,1513.2 1529.2,1495.1 1534.3,1489.9 1539.5,1476.8 1544.7,1453.9 1549.8,1451.2 1555.0,1465.4 1560.2,1463.9 1565.3,1448.3 1570.5,1447.7 1575.7,1459.6 1580.8,1461.2 1586.0,1455.6 1591.2,1450.8 1596.3,1443.1 1601.5,1437.9 1606.7,1449.8 1611.9,1470.2 1617.0,1476.8 1622.2,1475.8 1627.4,1487.6 1632.5,1502.4 1637.7,1493.5 1642.9,1462.3 1648.0,1445.2 1653.2,1449.7 1658.4,1454.8 1663.5,1451.8 1668.7,1449.4 1673.9,1453.7 1679.1,1463.9 1684.2,1473.9 1689.4,1479.8 1694.6,1476.6 1699.7,1462.2 1704.9,1449.0 1710.1,1448.4 1715.2,1456.9 1720.4,1470.3 1725.6,1484.7 1730.7,1494.7 1735.9,1496.2 1741.1,1486.6 1746.2,1470.3 1751.4,1455.4 1756.6,1451.1 1761.8,1454.8 1766.9,1454.3 1772.1,1455.4 1777.3,1474.9 1782.4,1497.3 1787.6,1489.4 1792.8,1469.8 1797.9,1472.4 1803.1,1482.0 1808.3,1475.2 1813.4,1467.5 1818.6,1473.5 1823.8,1484.1 1828.9,1486.2 1834.1,1483.0 1839.3,1477.3 1844.5,1462.8 1849.6,1449.4 1854.8,1452.2 1860.0,1457.1 1865.1,1444.1 1870.3,1437.8 1875.5,1454.3 1880.6,1468.6 1885.8,1457.5 1891.0,1445.2 1896.1,1458.2 1901.3,1474.1 1906.5,1462.8 1911.6,1450.7 1916.8,1466.4 1922.0,1484.1 1927.2,1480.3 1932.3,1470.7 1937.5,1474.9 1942.7,1477.7 1947.8,1460.3 1953.0,1445.2 1958.2,1452.2 1963.3,1470.9 1968.5,1479.4 1973.7,1480.9 1978.8,1491.9 1984.0,1503.6 1989.2,1493.0 1994.3,1480.9 1999.5,1480.9 2004.7,1479.8 2009.9,1474.5 2015.0,1471.3 2020.2,1468.8 2025.4,1465.0 2030.5,1464.3 2035.7,1471.3 2040.9,1473.0 2046.0,1456.5 2051.2,1444.8 2056.4,1460.1 2061.5,1479.8 2066.7,1476.0 2071.9,1461.3 2077.0,1463.5 2082.2,1478.8 2087.4,1480.3 2092.6,1471.8 2097.7,1471.3 2102.9,1473.0 2108.1,1458.6 2113.2,1437.3"/>
<polyline stroke="#808080" points="304.1,1469.2 309.3,1467.6 314.5,1466.5 319.7,1465.1 324.8,1464.7 330.0,1466.1 335.2,1467.6 340.3,1468.2 345.5,1468.8 350.7,1469.2 355.8,1468.2 361.0,1466.5 366.2,1466.5 371.3,1467.8 376.5,1468.6 381.7,1468.6 386.9,1468.2 392.0,1467.8 397.2,1467.2 402.4,1466.1 407.5,1468.2 412.7,1471.3 417.9,1469.9 423.0,1465.1 428.2,1463.6 433.4,1467.2 438.5,1470.3 443.7,1469.7 448.9,1466.7 454.0,1463.0 459.2,1460.3 464.4,1462.4 469.6,1466.1 474.7,1465.5 479.9,1466.5 485.1,1473.8 490.2,1478.0 495.4,1472.4 500.6,1467.6 505.7,1470.7 510.9,1472.8 516.1,1466.1 521.2,1459.5 526.4,1463.0 531.6,1469.9 536.7,1471.7 541.9,1472.8 547.1,1474.4 552.3,1471.3 557.4,1464.0 562.6,1460.9 567.8,1463.0 572.9,1461.5 578.1,1457.4 583.3,1458.8 588.4,1468.2 593.6,1475.1 598.8,1473.0 603.9,1470.3 609.1,1470.9 614.3,1470.9 619.4,1470.3 624.6,1472.4 629.8,1470.9 635.0,1464.5 640.1,1459.3 645.3,1462.4 650.5,1466.1 655.6,1463.0 660.8,1462.4 666.0,1470.3 671.1,1478.2 676.3,1477.6 681.5,1474.4 686.6,1474.4 691.8,1473.8 697.0,1465.7 702.1,1456.8 707.3,1457.4 712.5,1464.7 717.7,1466.1 722.8,1460.5 728.0,1460.9 733.2,1466.1 738.3,1466.1 743.5,1463.6 748.7,1466.1 753.8,1468.6 759.0,1466.1 764.2,1466.1 769.3,1474.9 774.5,1483.2 779.7,1480.7 784.8,1475.9 790.0,1476.9 795.2,1475.5 800.4,1466.7 805.5,1463.0 810.7,1464.7 815.9,1461.5 821.0,1458.2 826.2,1462.6 831.4,1468.6 836.5,1469.2 841.7,1465.5 846.9,1465.1 852.0,1467.2 857.2,1464.7 862.4,1459.5 867.5,1461.3 872.7,1469.9 877.9,1473.4 883.1,1469.7 888.2,1467.8 893.4,1470.9 898.6,1471.7 903.7,1469.2 908.9,1468.2 914.1,1467.6 919.2,1464.7 924.4,1463.6 929.6,1466.1 934.7,1468.2 939.9,1467.2 945.1,1464.0 950.2,1459.9 955.4,1457.8 960.6,1458.8 965.8,1461.5 970.9,1461.5 976.1,1458.4 981.3,1459.9 986.4,1466.5 991.6,1470.9 996.8,1469.9 1001.9,1471.3 1007.1,1476.9 1012.3,1479.0 1017.4,1474.4 1022.6,1470.7 1027.8,1469.7 1033.0,1468.2 1038.1,1465.1 1043.3,1465.7 1048.5,1469.7 1053.6,1470.3 1058.8,1469.7 1064.0,1475.5 1069.1,1482.1 1074.3,1484.8 1079.5,1487.5 1084.6,1491.1 1089.8,1495.2 1095.0,1500.4 1100.1,1505.6 1105.3,1508.1 1110.5,1501.9 1115.7,1490.0 1120.8,1476.5 1126.0,1462.0 1131.2,1444.9 1136.3,1428.3 1141.5,1414.8 1146.7,1405.2 1151.8,1400.6 1157.0,1403.1 1162.2,1406.9 1167.3,1410.0 1172.5,1418.9 1177.7,1435.3 1182.8,1451.6 1188.0,1464.5 1193.2,1478.0 1198.4,1490.5 1203.5,1497.3 1208.7,1494.8 1213.9,1489.0 1219.0,1482.8 1224.2,1476.5 1229.4,1473.8 1234.5,1479.2 1239.7,1486.5 1244.9,1490.5 1250.0,1494.6 1255.2,1500.4 1260.4,1503.1 1265.5,1497.7 1270.7,1491.1 1275.9,1485.3 1281.1,1478.0 1286.2,1471.7 1291.4,1473.0 1296.6,1477.6 1301.7,1475.5 1306.9,1467.6 1312.1,1462.4 1317.2,1460.9 1322.4,1458.2 1327.6,1456.8 1332.7,1461.5 1337.9,1463.4 1343.1,1452.2 1348.2,1441.8 1353.4,1439.1 1358.6,1437.0 1363.8,1432.4 1368.9,1436.0 1374.1,1449.5 1379.3,1463.0 1384.4,1471.7 1389.6,1481.7 1394.8,1492.5 1399.9,1494.8 1405.1,1490.0 1410.3,1489.0 1415.4,1490.0 1420.6,1481.1 1425.8,1467.8 1430.9,1462.6 1436.1,1460.3 1441.3,1454.1 1446.5,1448.4 1451.6,1450.1 1456.8,1455.1 1462.0,1459.5 1467.1,1464.0 1472.3,1470.3 1477.5,1476.5 1482.6,1475.9 1487.8,1471.3 1493.0,1468.6 1498.1,1467.2 1503.3,1465.7 1508.5,1462.0 1513.6,1459.5 1518.8,1463.0 1524.0,1469.2 1529.2,1472.4 1534.3,1474.4 1539.5,1476.9 1544.7,1479.6 1549.8,1481.7 1555.0,1482.3 1560.2,1483.2 1565.3,1482.8 1570.5,1476.9 1575.7,1469.9 1580.8,1467.8 1586.0,1467.8 1591.2,1463.0 1596.3,1457.8 1601.5,1456.8 1606.7,1456.1 1611.9,1453.6 1617.0,1452.0 1622.2,1452.2 1627.4,1454.7 1632.5,1459.5 1637.7,1463.6 1642.9,1466.7 1648.0,1469.2 1653.2,1470.0 1658.4,1471.7 1663.5,1473.8 1668.7,1474.2 1673.9,1472.7 1679.1,1471.7 1684.2,1471.7 1689.4,1471.5 1694.6,1472.1 1699.7,1473.6 1704.9,1472.7 1710.1,1468.9 1715.2,1465.3 1720.4,1465.1 1725.6,1469.3 1730.7,1472.1 1735.9,1470.0 1741.1,1467.8 1746.2,1470.0 1751.4,1471.7 1756.6,1471.0 1761.8,1468.9 1766.9,1468.3 1772.1,1468.9 1777.3,1469.3 1782.4,1467.4 1787.6,1464.2 1792.8,1464.0 1797.9,1462.5 1803.1,1455.5 1808.3,1449.8 1813.4,1450.2 1818.6,1453.6 1823.8,1456.6 1828.9,1461.0 1834.1,1465.3 1839.3,1466.1 1844.5,1468.5 1849.6,1473.2 1854.8,1475.7 1860.0,1474.9 1865.1,1472.1 1870.3,1468.5 1875.5,1466.4 1880.6,1466.8 1885.8,1468.9 1891.0,1471.0 1896.1,1472.1 1901.3,1472.5 1906.5,1474.2 1911.6,1476.3 1916.8,1477.8 1922.0,1477.4 1927.2,1476.3 1932.3,1474.2 1937.5,1471.0 1942.7,1470.0 1947.8,1471.7 1953.0,1471.5 1958.2,1468.5 1963.3,1468.3 1968.5,1473.2 1973.7,1475.7 1978.8,1471.7 1984.0,1468.9 1989.2,1468.9 1994.3,1467.2 1999.5,1463.6 2004.7,1459.3 2009.9,1454.5 2015.0,1451.9 2020.2,1451.5 2025.4,1451.9 2030.5,1453.6 2035.7,1458.7 2040.9,1464.0 2046.0,1467.4 2051.2,1470.0 2056.4,1472.5 2061.5,1473.2 2066.7,1472.1 2071.9,1472.7 2077.0,1473.8 2082.2,1472.5 2087.4,1470.6 2092.6,1470.0 2097.7,1469.5 2102.9,1467.4 2108.1,1466.8 2113.2,1467.8"/>
<polyline stroke="#808080" points="304.1,1467.8 309.3,1461.9 314.5,1461.3 319.7,1458.8 324.8,1462.6 330.0,1471.9 335.2,1473.4 340.3,1466.3 345.5,1459.9 350.7,1469.4 355.8,1488.1 361.0,1478.2 366.2,1451.8 371.3,1451.8 376.5,1475.7 381.7,1476.1 386.9,1458.0 392.0,1460.9 397.2,1476.7 402.4,1472.5 407.5,1457.4 412.7,1456.7 417.9,1470.9 423.0,1474.4 428.2,1461.5 433.4,1453.2 438.5,1457.4 443.7,1467.8 448.9,1474.6 454.0,1469.4 459.2,1465.7 464.4,1473.4 469.6,1478.8 474.7,1468.8 479.9,1457.4 485.1,1459.9 490.2,1468.8 495.4,1469.4 500.6,1462.6 505.7,1460.9 510.9,1466.7 516.1,1475.0 521.2,1479.8 526.4,1475.0 531.6,1460.5 536.7,1456.3 541.9,1469.2 547.1,1476.1 552.3,1465.3 557.4,1457.8 562.6,1466.3 567.8,1474.0 572.9,1471.9 578.1,1469.8 583.3,1466.7 588.4,1464.6 593.6,1471.3 598.8,1475.5 603.9,1470.5 609.1,1468.8 614.3,1472.3 619.4,1474.0 624.6,1473.6 629.8,1473.4 635.0,1466.3 640.1,1450.7 645.3,1444.3 650.5,1457.4 655.6,1477.1 660.8,1480.2 666.0,1460.9 671.1,1457.4 676.3,1486.5 681.5,1506.9 686.6,1489.0 691.8,1453.8 697.0,1439.3 702.1,1451.5 707.3,1462.1 712.5,1464.0 717.7,1466.7 722.8,1463.0 728.0,1455.7 733.2,1465.7 738.3,1488.6 743.5,1490.2 748.7,1465.1 753.8,1454.7 759.0,1467.8 764.2,1475.5 769.3,1468.4 774.5,1461.1 779.7,1458.4 784.8,1457.4 790.0,1459.4 795.2,1468.4 800.4,1473.4 805.5,1463.0 810.7,1454.7 815.9,1463.2 821.0,1474.0 826.2,1470.5 831.4,1466.3 836.5,1474.6 841.7,1479.2 846.9,1473.4 852.0,1470.3 857.2,1469.4 862.4,1467.3 867.5,1469.4 872.7,1474.0 877.9,1475.7 883.1,1477.1 888.2,1470.5 893.4,1451.1 898.6,1445.5 903.7,1455.7 908.9,1456.9 914.1,1454.2 919.2,1456.3 924.4,1456.3 929.6,1458.8 934.7,1468.2 939.9,1473.4 945.1,1476.5 950.2,1482.3 955.4,1482.7 960.6,1477.5 965.8,1478.8 970.9,1482.3 976.1,1475.0 981.3,1459.4 986.4,1455.3 991.6,1467.8 996.8,1469.4 1001.9,1449.7 1007.1,1439.7 1012.3,1457.8 1017.4,1468.4 1022.6,1461.5 1027.8,1469.2 1033.0,1488.1 1038.1,1487.1 1043.3,1471.9 1048.5,1469.8 1053.6,1480.2 1058.8,1485.9 1064.0,1481.7 1069.1,1482.7 1074.3,1488.1 1079.5,1479.6 1084.6,1467.8 1089.8,1466.1 1095.0,1463.6 1100.1,1454.7 1105.3,1449.0 1110.5,1445.9 1115.7,1440.3 1120.8,1437.6 1126.0,1449.0 1131.2,1461.9 1136.3,1458.4 1141.5,1455.3 1146.7,1471.5 1151.8,1490.0 1157.0,1488.6 1162.2,1478.8 1167.3,1478.2 1172.5,1476.7 1177.7,1468.8 1182.8,1472.5 1188.0,1483.4 1193.2,1474.0 1198.4,1460.1 1203.5,1466.3 1208.7,1478.6 1213.9,1475.0 1219.0,1471.3 1224.2,1473.6 1229.4,1470.5 1234.5,1460.5 1239.7,1458.4 1244.9,1464.6 1250.0,1462.1 1255.2,1453.2 1260.4,1462.6 1265.5,1480.7 1270.7,1470.3 1275.9,1452.8 1281.1,1470.9 1286.2,1488.1 1291.4,1490.6 1296.6,1486.9 1301.7,1494.8 1306.9,1491.3 1312.1,1471.9 1317.2,1464.6 1322.4,1460.9 1327.6,1439.7 1332.7,1426.2 1337.9,1432.8 1343.1,1423.1 1348.2,1400.6 1353.4,1414.3 1358.6,1453.8 1363.8,1463.0 1368.9,1450.5 1374.1,1463.6 1379.3,1488.6 1384.4,1487.5 1389.6,1471.9 1394.8,1476.7 1399.9,1490.2 1405.1,1486.1 1410.3,1478.8 1415.4,1492.7 1420.6,1508.3 1425.8,1499.6 1430.9,1485.4 1436.1,1490.2 1441.3,1494.4 1446.5,1485.0 1451.6,1479.2 1456.8,1475.7 1462.0,1468.8 1467.1,1466.3 1472.3,1476.7 1477.5,1481.9 1482.6,1467.1 1487.8,1456.7 1493.0,1470.9 1498.1,1482.7 1503.3,1466.3 1508.5,1453.6 1513.6,1463.6 1518.8,1459.9 1524.0,1438.2 1529.2,1437.6 1534.3,1449.5 1539.5,1443.4 1544.7,1431.4 1549.8,1435.9 1555.0,1447.4 1560.2,1452.2 1565.3,1455.3 1570.5,1460.5 1575.7,1460.5 1580.8,1460.5 1586.0,1462.6 1591.2,1460.9 1596.3,1464.6 1601.5,1483.4 1606.7,1496.9 1611.9,1484.8 1617.0,1469.8 1622.2,1469.8 1627.4,1478.6 1632.5,1486.1 1637.7,1491.3 1642.9,1491.7 1648.0,1481.7 1653.2,1468.9 1658.4,1469.9 1663.5,1472.7 1668.7,1453.6 1673.9,1435.9 1679.1,1452.5 1684.2,1479.1 1689.4,1472.1 1694.6,1451.4 1699.7,1456.1 1704.9,1473.1 1710.1,1473.3 1715.2,1474.4 1720.4,1493.3 1725.6,1496.7 1730.7,1468.0 1735.9,1453.6 1741.1,1467.8 1746.2,1472.1 1751.4,1454.6 1756.6,1448.9 1761.8,1467.8 1766.9,1480.1 1772.1,1470.6 1777.3,1462.5 1782.4,1465.3 1787.6,1470.6 1792.8,1476.9 1797.9,1483.3 1803.1,1484.8 1808.3,1479.5 1813.4,1475.5 1818.6,1472.3 1823.8,1460.4 1828.9,1451.9 1834.1,1454.0 1839.3,1452.9 1844.5,1457.2 1849.6,1473.1 1854.8,1480.8 1860.0,1471.6 1865.1,1461.0 1870.3,1457.2 1875.5,1460.6 1880.6,1470.6 1885.8,1477.6 1891.0,1470.6 1896.1,1465.3 1901.3,1471.6 1906.5,1476.9 1911.6,1478.0 1916.8,1477.6 1922.0,1476.9 1927.2,1475.9 1932.3,1471.0 1937.5,1467.4 1942.7,1471.6 1947.8,1474.8 1953.0,1470.6 1958.2,1461.4 1963.3,1456.8 1968.5,1456.3 1973.7,1454.6 1978.8,1457.8 1984.0,1466.7 1989.2,1467.4 1994.3,1459.3 1999.5,1456.1 2004.7,1459.9 2009.9,1459.3 2015.0,1451.9 2020.2,1449.3 2025.4,1462.1 2030.5,1476.3 2035.7,1472.1 2040.9,1454.0 2046.0,1447.6 2051.2,1458.9 2056.4,1468.9 2061.5,1465.7 2066.7,1457.4 2071.9,1452.5 2077.0,1456.8 2082.2,1467.4 2087.4,1470.6 2092.6,1466.7 2097.7,1472.7 2102.9,1488.0 2108.1,1492.9 2113.2,1482.3"/>
<polyline stroke="#808080" points="304.1,1471.6 309.3,1478.3 314.5,1469.5 319.7,1460.2 324.8,1463.3 330.0,1470.2 335.2,1469.1 340.3,1466.8 345.5,1465.8 350.7,1463.3 355.8,1464.3 361.0,1470.2 366.2,1468.1 371.3,1460.2 376.5,1463.3 381.7,1475.4 386.9,1473.7 392.0,1462.7 397.2,1460.2 402.4,1466.4 407.5,1471.2 412.7,1472.0 417.9,1471.0 423.0,1473.3 428.2,1467.0 433.4,1447.7 438.5,1451.9 443.7,1479.9 448.9,1480.6 454.0,1464.3 459.2,1473.3 464.4,1483.1 469.6,1469.5 474.7,1456.6 479.9,1453.3 485.1,1458.1 490.2,1471.2 495.4,1477.2 500.6,1466.8 505.7,1457.7 510.9,1462.3 516.1,1470.6 521.2,1472.7 526.4,1468.1 531.6,1463.3 536.7,1464.8 541.9,1467.5 547.1,1470.6 552.3,1472.2 557.4,1467.5 562.6,1460.8 567.8,1461.2 572.9,1468.9 578.1,1472.2 583.3,1466.8 588.4,1463.7 593.6,1468.1 598.8,1472.7 603.9,1472.0 609.1,1468.5 614.3,1464.3 619.4,1461.8 624.6,1465.0 629.8,1472.7 635.0,1474.3 640.1,1461.8 645.3,1449.8 650.5,1456.6 655.6,1463.7 660.8,1465.4 666.0,1475.8 671.1,1486.2 676.3,1484.5 681.5,1479.9 686.6,1475.8 691.8,1471.0 697.0,1468.9 702.1,1461.2 707.3,1447.1 712.5,1459.1 717.7,1482.6 722.8,1467.5 728.0,1438.3 733.2,1467.5 738.3,1507.6 743.5,1476.8 748.7,1444.6 753.8,1467.5 759.0,1491.4 764.2,1472.7 769.3,1459.8 774.5,1473.1 779.7,1483.5 784.8,1468.5 790.0,1457.7 795.2,1463.3 800.4,1459.1 805.5,1445.6 810.7,1451.5 815.9,1466.0 821.0,1468.5 826.2,1479.9 831.4,1501.4 836.5,1500.3 841.7,1470.6 846.9,1442.1 852.0,1449.8 857.2,1483.1 862.4,1487.6 867.5,1467.5 872.7,1462.9 877.9,1473.3 883.1,1479.5 888.2,1479.3 893.4,1466.8 898.6,1446.3 903.7,1449.4 908.9,1481.0 914.1,1492.8 919.2,1472.7 924.4,1443.5 929.6,1430.0 934.7,1445.6 939.9,1472.0 945.1,1477.2 950.2,1467.0 955.4,1477.2 960.6,1490.3 965.8,1483.1 970.9,1477.9 976.1,1492.4 981.3,1491.8 986.4,1445.6 991.6,1407.8 996.8,1441.5 1001.9,1497.6 1007.1,1490.3 1012.3,1443.5 1017.4,1425.9 1022.6,1442.5 1027.8,1473.7 1033.0,1492.4 1038.1,1469.5 1043.3,1444.6 1048.5,1470.6 1053.6,1513.8 1058.8,1510.5 1064.0,1459.1 1069.1,1444.0 1074.3,1484.1 1079.5,1501.8 1084.6,1476.8 1089.8,1442.5 1095.0,1425.5 1100.1,1452.9 1105.3,1483.7 1110.5,1447.7 1115.7,1400.5 1120.8,1418.2 1126.0,1477.9 1131.2,1512.6 1136.3,1491.4 1141.5,1448.7 1146.7,1424.8 1151.8,1449.8 1157.0,1501.4 1162.2,1515.9 1167.3,1476.8 1172.5,1450.2 1177.7,1468.9 1182.8,1488.7 1188.0,1481.6 1193.2,1466.8 1198.4,1460.6 1203.5,1462.7 1208.7,1478.9 1213.9,1503.4 1219.0,1495.5 1224.2,1449.8 1229.4,1418.0 1234.5,1444.6 1239.7,1498.7 1244.9,1513.2 1250.0,1483.1 1255.2,1462.7 1260.4,1472.7 1265.5,1480.6 1270.7,1475.8 1275.9,1478.3 1281.1,1491.0 1286.2,1491.8 1291.4,1460.2 1296.6,1431.7 1301.7,1437.7 1306.9,1451.9 1312.1,1442.1 1317.2,1424.4 1322.4,1414.4 1327.6,1405.7 1332.7,1402.4 1337.9,1420.7 1343.1,1446.7 1348.2,1453.3 1353.4,1454.6 1358.6,1468.9 1363.8,1484.1 1368.9,1491.4 1374.1,1503.2 1379.3,1509.5 1384.4,1493.5 1389.6,1477.4 1394.8,1483.7 1399.9,1502.4 1405.1,1508.0 1410.3,1487.2 1415.4,1471.6 1420.6,1473.3 1425.8,1470.0 1430.9,1471.6 1436.1,1491.4 1441.3,1489.9 1446.5,1466.4 1451.6,1468.9 1456.8,1496.2 1462.0,1505.5 1467.1,1490.3 1472.3,1490.3 1477.5,1506.4 1482.6,1500.7 1487.8,1472.7 1493.0,1462.9 1498.1,1471.2 1503.3,1466.4 1508.5,1454.4 1513.6,1449.8 1518.8,1439.4 1524.0,1423.8 1529.2,1424.4 1534.3,1433.8 1539.5,1429.0 1544.7,1424.2 1549.8,1436.7 1555.0,1448.7 1560.2,1441.5 1565.3,1436.9 1570.5,1452.9 1575.7,1468.5 1580.8,1469.5 1586.0,1471.0 1591.2,1476.4 1596.3,1477.4 1601.5,1476.8 1606.7,1483.1 1611.9,1489.3 1617.0,1491.0 1622.2,1492.8 1627.4,1492.8 1632.5,1494.9 1637.7,1499.3 1642.9,1490.8 1648.0,1478.3 1653.2,1474.5 1658.4,1471.3 1663.5,1467.5 1668.7,1465.4 1673.9,1462.4 1679.1,1455.4 1684.2,1453.9 1689.4,1467.5 1694.6,1468.1 1699.7,1440.1 1704.9,1439.9 1710.1,1486.2 1715.2,1492.2 1720.4,1432.7 1725.6,1406.1 1730.7,1461.8 1735.9,1513.4 1741.1,1489.4 1746.2,1440.9 1751.4,1442.6 1756.6,1468.1 1761.8,1478.8 1766.9,1468.1 1772.1,1453.3 1777.3,1471.3 1782.4,1506.8 1787.6,1488.3 1792.8,1449.4 1797.9,1456.5 1803.1,1477.1 1808.3,1477.7 1813.4,1467.1 1818.6,1456.5 1823.8,1461.1 1828.9,1479.4 1834.1,1487.3 1839.3,1476.6 1844.5,1463.5 1849.6,1457.5 1854.8,1462.8 1860.0,1468.8 1865.1,1465.4 1870.3,1459.6 1875.5,1466.0 1880.6,1469.6 1885.8,1466.4 1891.0,1485.1 1896.1,1497.9 1901.3,1460.7 1906.5,1420.8 1911.6,1436.3 1916.8,1493.6 1922.0,1530.2 1927.2,1500.0 1932.3,1443.7 1937.5,1439.0 1942.7,1483.0 1947.8,1502.8 1953.0,1480.9 1958.2,1457.5 1963.3,1448.6 1968.5,1460.3 1973.7,1468.8 1978.8,1440.5 1984.0,1426.3 1989.2,1472.4 1994.3,1514.5 1999.5,1482.0 2004.7,1423.1 2009.9,1423.5 2015.0,1468.6 2020.2,1469.2 2025.4,1429.9 2030.5,1429.5 2035.7,1469.2 2040.9,1502.8 2046.0,1499.4 2051.2,1459.6 2056.4,1421.8 2061.5,1434.1 2066.7,1480.9 2071.9,1491.1 2077.0,1468.8 2082.2,1460.7 2087.4,1465.0 2092.6,1479.4 2097.7,1488.8 2102.9,1455.4 2108.1,1429.3 2113.2,1478.8"/>
<polyline stroke="#0000ff" points="304.1,231.3 309.3,240.1 314.5,255.7 319.7,260.7 324.8,260.0 330.0,262.1 335.2,261.5 340.3,251.5 345.5,240.5 350.7,245.3 355.8,261.3 361.0,257.3 366.2,238.6 371.3,243.2 376.5,273.3 381.7,292.5 386.9,279.6 392.0,256.7 397.2,249.4 402.4,244.2 407.5,230.7 412.7,222.8 417.9,232.2 423.0,239.6 428.2,240.1 433.4,246.9 438.5,255.2 443.7,245.7 448.9,233.8 454.0,242.6 459.2,258.4 464.4,254.6 469.6,249.8 474.7,261.5 479.9,259.4 485.1,231.1 490.2,229.0 495.4,261.9 500.6,269.2 505.7,230.7 510.9,208.9 516.1,239.0 521.2,268.6 526.4,272.3 531.6,265.6 536.7,264.0 541.9,264.4 547.1,272.3 552.3,285.4 557.4,277.9 562.6,246.3 567.8,228.2 572.9,244.8 578.1,267.5 583.3,274.4 588.4,266.1 593.6,247.8 598.8,231.1 603.9,235.9 609.1,254.2 614.3,255.2 619.4,240.1 624.6,241.1 629.8,271.9 635.0,300.4 640.1,288.9 645.3,253.6 650.5,221.3 655.6,218.2 660.8,251.5 666.0,276.7 671.1,239.0 676.3,213.0 681.5,217.8 686.6,253.6 691.8,266.7 697.0,253.2 702.1,252.5 707.3,271.3 712.5,289.4 717.7,291.6 722.8,269.2 728.0,229.7 733.2,196.4 738.3,202.0 743.5,242.1 748.7,280.2 753.8,294.1 759.0,273.3 764.2,244.2 769.3,237.6 774.5,238.4 779.7,224.1 784.8,209.9 790.0,216.6 795.2,241.1 800.4,267.7 805.5,279.6 810.7,264.0 815.9,240.5 821.0,234.2 826.2,241.5 831.4,255.7 836.5,276.0 841.7,274.8 846.9,248.0 852.0,241.1 857.2,258.4 862.4,255.2 867.5,226.5 872.7,209.5 877.9,222.4 883.1,251.5 888.2,273.3 893.4,266.5 898.6,235.3 903.7,225.5 908.9,253.6 914.1,279.0 919.2,253.6 924.4,229.3 929.6,239.0 934.7,250.5 939.9,242.6 945.1,243.6 950.2,245.3 955.4,230.1 960.6,233.4 965.8,268.1 970.9,282.3 976.1,261.3 981.3,253.0 986.4,268.1 991.6,271.7 996.8,262.3 1001.9,258.4 1007.1,241.5 1012.3,212.6 1017.4,224.9 1022.6,268.8 1027.8,273.8 1033.0,244.6 1038.1,241.5 1043.3,253.6 1048.5,253.2 1053.6,259.4 1058.8,274.4 1064.0,269.2 1069.1,258.4 1074.3,276.5 1079.5,297.3 1084.6,282.7 1089.8,259.8 1095.0,251.5 1100.1,232.8 1105.3,207.8 1110.5,204.1 1115.7,203.0 1120.8,191.2 1126.0,198.9 1131.2,229.7 1136.3,245.9 1141.5,244.8 1146.7,254.0 1151.8,261.5 1157.0,254.0 1162.2,258.4 1167.3,275.4 1172.5,263.4 1177.7,229.3 1182.8,225.9 1188.0,256.3 1193.2,276.5 1198.4,274.0 1203.5,280.6 1208.7,293.1 1213.9,286.9 1219.0,288.5 1224.2,310.1 1229.4,309.7 1234.5,276.5 1239.7,255.2 1244.9,264.0 1250.0,267.5 1255.2,236.9 1260.4,209.5 1265.5,205.8 1270.7,219.9 1275.9,231.3 1281.1,232.4 1286.2,227.0 1291.4,225.5 1296.6,238.6 1301.7,264.6 1306.9,276.9 1312.1,262.9 1317.2,255.0 1322.4,272.7 1327.6,285.8 1332.7,279.0 1337.9,271.7 1343.1,268.1 1348.2,264.4 1353.4,265.6 1358.6,265.6 1363.8,241.1 1368.9,209.9 1374.1,211.6 1379.3,237.6 1384.4,242.8 1389.6,224.5 1394.8,212.6 1399.9,226.1 1405.1,248.4 1410.3,266.1 1415.4,293.1 1420.6,318.5 1425.8,292.1 1430.9,231.7 1436.1,213.0 1441.3,225.5 1446.5,220.3 1451.6,213.0 1456.8,231.1 1462.0,249.4 1467.1,247.3 1472.3,241.5 1477.5,250.0 1482.6,258.8 1487.8,254.0 1493.0,254.6 1498.1,269.2 1503.3,275.4 1508.5,270.2 1513.6,278.1 1518.8,290.6 1524.0,270.2 1529.2,227.6 1534.3,218.9 1539.5,242.8 1544.7,254.0 1549.8,246.3 1555.0,242.6 1560.2,252.5 1565.3,262.3 1570.5,255.7 1575.7,245.7 1580.8,242.1 1586.0,235.5 1591.2,228.6 1596.3,232.4 1601.5,242.8 1606.7,247.3 1611.9,244.8 1617.0,242.8 1622.2,244.2 1627.4,248.0 1632.5,248.8 1637.7,242.1 1642.9,242.6 1648.0,260.2 1653.2,267.1 1658.4,250.1 1663.5,231.0 1668.7,235.6 1673.9,245.8 1679.1,246.9 1684.2,249.0 1689.4,255.4 1694.6,257.9 1699.7,250.7 1704.9,242.0 1710.1,246.5 1715.2,267.1 1720.4,278.1 1725.6,257.5 1730.7,230.3 1735.9,226.7 1741.1,242.2 1746.2,249.4 1751.4,250.7 1756.6,266.0 1761.8,280.3 1766.9,270.7 1772.1,272.4 1777.3,299.6 1782.4,298.5 1787.6,256.5 1792.8,232.4 1797.9,241.6 1803.1,243.3 1808.3,238.4 1813.4,249.0 1818.6,255.4 1823.8,242.6 1828.9,233.1 1834.1,227.1 1839.3,214.6 1844.5,215.7 1849.6,234.6 1854.8,239.5 1860.0,231.0 1865.1,233.5 1870.3,242.6 1875.5,252.2 1880.6,266.0 1885.8,278.3 1891.0,274.9 1896.1,257.5 1901.3,245.2 1906.5,255.8 1911.6,277.3 1916.8,286.2 1922.0,286.2 1927.2,277.3 1932.3,246.9 1937.5,215.4 1942.7,210.1 1947.8,238.4 1953.0,266.7 1958.2,278.1 1963.3,276.0 1968.5,269.2 1973.7,261.8 1978.8,252.8 1984.0,243.1 1989.2,229.9 1994.3,220.8 1999.5,233.1 2004.7,248.0 2009.9,243.7 2015.0,248.0 2020.2,272.0 2025.4,270.7 2030.5,235.8 2035.7,223.5 2040.9,246.9 2046.0,256.0 2051.2,245.2 2056.4,252.2 2061.5,268.8 2066.7,267.5 2071.9,260.7 2077.0,269.2 2082.2,278.3 2087.4,257.9 2092.6,225.2 2097.7,222.0 2102.9,248.0 2108.1,258.2 2113.2,248.0"/>
<polyline stroke="#464646" points="304.1,376.6 309.3,383.3 314.5,374.5 319.7,365.2 324.8,368.3 330.0,375.2 335.2,374.1 340.3,371.8 345.5,370.8 350.7,368.3 355.8,369.3 361.0,375.2 366.2,373.1 371.3,365.2 376.5,368.3 381.7,380.4 386.9,378.7 392.0,367.7 397.2,365.2 402.4,371.4 407.5,376.2 412.7,377.0 417.9,376.0 423.0,378.3 428.2,372.0 433.4,352.7 438.5,356.9 443.7,384.9 448.9,385.6 454.0,369.3 459.2,378.3 464.4,388.1 469.6,374.5 474.7,361.6 479.9,358.3 485.1,363.1 490.2,376.2 495.4,382.2 500.6,371.8 505.7,362.7 510.9,367.3 516.1,375.6 521.2,377.7 526.4,373.1 531.6,368.3 536.7,369.8 541.9,372.5 547.1,375.6 552.3,377.2 557.4,372.5 562.6,365.8 567.8,366.2 572.9,373.9 578.1,377.2 583.3,371.8 588.4,368.7 593.6,373.1 598.8,377.7 603.9,377.0 609.1,373.5 614.3,369.3 619.4,366.8 624.6,370.0 629.8,377.7 635.0,379.3 640.1,366.8 645.3,354.8 650.5,361.6 655.6,368.7 660.8,370.4 666.0,380.8 671.1,391.2 676.3,389.5 681.5,384.9 686.6,380.8 691.8,376.0 697.0,373.9 702.1,366.2 707.3,352.1 712.5,364.1 717.7,387.6 722.8,372.5 728.0,343.3 733.2,372.5 738.3,412.6 743.5,381.8 748.7,349.6 753.8,372.5 759.0,396.4 764.2,377.7 769.3,364.8 774.5,378.1 779.7,388.5 784.8,373.5 790.0,362.7 795.2,368.3 800.4,364.1 805.5,350.6 810.7,356.5 815.9,371.0 821.0,373.5 826.2,384.9 831.4,406.4 836.5,405.3 841.7,375.6 846.9,347.1 852.0,354.8 857.2,388.1 862.4,392.6 867.5,372.5 872.7,367.9 877.9,378.3 883.1,384.5 888.2,384.3 893.4,371.8 898.6,351.3 903.7,354.4 908.9,386.0 914.1,397.8 919.2,377.7 924.4,348.5 929.6,335.0 934.7,350.6 939.9,377.0 945.1,382.2 950.2,372.0 955.4,382.2 960.6,395.3 965.8,388.1 970.9,382.9 976.1,397.4 981.3,396.8 986.4,350.6 991.6,312.8 996.8,346.5 1001.9,402.6 1007.1,395.3 1012.3,348.5 1017.4,330.9 1022.6,347.5 1027.8,378.7 1033.0,397.4 1038.1,374.5 1043.3,349.6 1048.5,375.6 1053.6,418.8 1058.8,415.5 1064.0,364.1 1069.1,349.0 1074.3,389.1 1079.5,406.8 1084.6,381.8 1089.8,347.5 1095.0,330.5 1100.1,357.9 1105.3,388.7 1110.5,352.7 1115.7,305.5 1120.8,323.2 1126.0,382.9 1131.2,417.6 1136.3,396.4 1141.5,353.7 1146.7,329.8 1151.8,354.8 1157.0,406.4 1162.2,420.9 1167.3,381.8 1172.5,355.2 1177.7,373.9 1182.8,393.7 1188.0,386.6 1193.2,371.8 1198.4,365.6 1203.5,367.7 1208.7,383.9 1213.9,408.4 1219.0,400.5 1224.2,354.8 1229.4,323.0 1234.5,349.6 1239.7,403.7 1244.9,418.2 1250.0,388.1 1255.2,367.7 1260.4,377.7 1265.5,385.6 1270.7,380.8 1275.9,383.3 1281.1,396.0 1286.2,396.8 1291.4,365.2 1296.6,336.7 1301.7,342.7 1306.9,356.9 1312.1,347.1 1317.2,329.4 1322.4,319.4 1327.6,310.7 1332.7,307.4 1337.9,325.7 1343.1,351.7 1348.2,358.3 1353.4,359.6 1358.6,373.9 1363.8,389.1 1368.9,396.4 1374.1,408.2 1379.3,414.5 1384.4,398.5 1389.6,382.4 1394.8,388.7 1399.9,407.4 1405.1,413.0 1410.3,392.2 1415.4,376.6 1420.6,378.3 1425.8,375.0 1430.9,376.6 1436.1,396.4 1441.3,394.9 1446.5,371.4 1451.6,373.9 1456.8,401.2 1462.0,410.5 1467.1,395.3 1472.3,395.3 1477.5,411.4 1482.6,405.7 1487.8,377.7 1493.0,367.9 1498.1,376.2 1503.3,371.4 1508.5,359.4 1513.6,354.8 1518.8,344.4 1524.0,328.8 1529.2,329.4 1534.3,338.8 1539.5,334.0 1544.7,329.2 1549.8,341.7 1555.0,353.7 1560.2,346.5 1565.3,341.9 1570.5,357.9 1575.7,373.5 1580.8,374.5 1586.0,376.0 1591.2,381.4 1596.3,382.4 1601.5,381.8 1606.7,388.1 1611.9,394.3 1617.0,396.0 1622.2,397.8 1627.4,397.8 1632.5,399.9 1637.7,404.3 1642.9,395.8 1648.0,383.3 1653.2,379.5 1658.4,376.3 1663.5,372.5 1668.7,370.4 1673.9,367.4 1679.1,360.4 1684.2,358.9 1689.4,372.5 1694.6,373.1 1699.7,345.1 1704.9,344.9 1710.1,391.2 1715.2,397.2 1720.4,337.7 1725.6,311.1 1730.7,366.8 1735.9,418.4 1741.1,394.4 1746.2,345.9 1751.4,347.6 1756.6,373.1 1761.8,383.8 1766.9,373.1 1772.1,358.3 1777.3,376.3 1782.4,411.8 1787.6,393.3 1792.8,354.4 1797.9,361.5 1803.1,382.1 1808.3,382.7 1813.4,372.1 1818.6,361.5 1823.8,366.1 1828.9,384.4 1834.1,392.3 1839.3,381.6 1844.5,368.5 1849.6,362.5 1854.8,367.8 1860.0,373.8 1865.1,370.4 1870.3,364.6 1875.5,371.0 1880.6,374.6 1885.8,371.4 1891.0,390.1 1896.1,402.9 1901.3,365.7 1906.5,325.8 1911.6,341.3 1916.8,398.6 1922.0,435.2 1927.2,405.0 1932.3,348.7 1937.5,344.0 1942.7,388.0 1947.8,407.8 1953.0,385.9 1958.2,362.5 1963.3,353.6 1968.5,365.3 1973.7,373.8 1978.8,345.5 1984.0,331.3 1989.2,377.4 1994.3,419.5 1999.5,387.0 2004.7,328.1 2009.9,328.5 2015.0,373.6 2020.2,374.2 2025.4,334.9 2030.5,334.5 2035.7,374.2 2040.9,407.8 2046.0,404.4 2051.2,364.6 2056.4,326.8 2061.5,339.1 2066.7,385.9 2071.9,396.1 2077.0,373.8 2082.2,365.7 2087.4,370.0 2092.6,384.4 2097.7,393.8 2102.9,360.4 2108.1,334.3 2113.2,383.8"/>
<polyline stroke="#464646" points="304.1,494.5 309.3,488.6 314.5,488.0 319.7,485.5 324.8,489.3 330.0,498.6 335.2,500.1 340.3,493.0 345.5,486.6 350.7,496.1 355.8,514.8 361.0,504.9 366.2,478.5 371.3,478.5 376.5,502.4 381.7,502.8 386.9,484.7 392.0,487.6 397.2,503.4 402.4,499.2 407.5,484.1 412.7,483.4 417.9,497.6 423.0,501.1 428.2,488.2 433.4,479.9 438.5,484.1 443.7,494.5 448.9,501.3 454.0,496.1 459.2,492.4 464.4,500.1 469.6,505.5 474.7,495.5 479.9,484.1 485.1,486.6 490.2,495.5 495.4,496.1 500.6,489.3 505.7,487.6 510.9,493.4 516.1,501.7 521.2,506.5 526.4,501.7 531.6,487.2 536.7,483.0 541.9,495.9 547.1,502.8 552.3,492.0 557.4,484.5 562.6,493.0 567.8,500.7 572.9,498.6 578.1,496.5 583.3,493.4 588.4,491.3 593.6,498.0 598.8,502.2 603.9,497.2 609.1,495.5 614.3,499.0 619.4,500.7 624.6,500.3 629.8,500.1 635.0,493.0 640.1,477.4 645.3,471.0 650.5,484.1 655.6,503.8 660.8,506.9 666.0,487.6 671.1,484.1 676.3,513.2 681.5,533.6 686.6,515.7 691.8,480.5 697.0,466.0 702.1,478.2 707.3,488.8 712.5,490.7 717.7,493.4 722.8,489.7 728.0,482.4 733.2,492.4 738.3,515.3 743.5,516.9 748.7,491.8 753.8,481.4 759.0,494.5 764.2,502.2 769.3,495.1 774.5,487.8 779.7,485.1 784.8,484.1 790.0,486.1 795.2,495.1 800.4,500.1 805.5,489.7 810.7,481.4 815.9,489.9 821.0,500.7 826.2,497.2 831.4,493.0 836.5,501.3 841.7,505.9 846.9,500.1 852.0,497.0 857.2,496.1 862.4,494.0 867.5,496.1 872.7,500.7 877.9,502.4 883.1,503.8 888.2,497.2 893.4,477.8 898.6,472.2 903.7,482.4 908.9,483.6 914.1,480.9 919.2,483.0 924.4,483.0 929.6,485.5 934.7,494.9 939.9,500.1 945.1,503.2 950.2,509.0 955.4,509.4 960.6,504.2 965.8,505.5 970.9,509.0 976.1,501.7 981.3,486.1 986.4,482.0 991.6,494.5 996.8,496.1 1001.9,476.4 1007.1,466.4 1012.3,484.5 1017.4,495.1 1022.6,488.2 1027.8,495.9 1033.0,514.8 1038.1,513.8 1043.3,498.6 1048.5,496.5 1053.6,506.9 1058.8,512.6 1064.0,508.4 1069.1,509.4 1074.3,514.8 1079.5,506.3 1084.6,494.5 1089.8,492.8 1095.0,490.3 1100.1,481.4 1105.3,475.7 1110.5,472.6 1115.7,467.0 1120.8,464.3 1126.0,475.7 1131.2,488.6 1136.3,485.1 1141.5,482.0 1146.7,498.2 1151.8,516.7 1157.0,515.3 1162.2,505.5 1167.3,504.9 1172.5,503.4 1177.7,495.5 1182.8,499.2 1188.0,510.1 1193.2,500.7 1198.4,486.8 1203.5,493.0 1208.7,505.3 1213.9,501.7 1219.0,498.0 1224.2,500.3 1229.4,497.2 1234.5,487.2 1239.7,485.1 1244.9,491.3 1250.0,488.8 1255.2,479.9 1260.4,489.3 1265.5,507.4 1270.7,497.0 1275.9,479.5 1281.1,497.6 1286.2,514.8 1291.4,517.3 1296.6,513.6 1301.7,521.5 1306.9,518.0 1312.1,498.6 1317.2,491.3 1322.4,487.6 1327.6,466.4 1332.7,452.9 1337.9,459.5 1343.1,449.8 1348.2,427.3 1353.4,441.0 1358.6,480.5 1363.8,489.7 1368.9,477.2 1374.1,490.3 1379.3,515.3 1384.4,514.2 1389.6,498.6 1394.8,503.4 1399.9,516.9 1405.1,512.8 1410.3,505.5 1415.4,519.4 1420.6,535.0 1425.8,526.3 1430.9,512.1 1436.1,516.9 1441.3,521.1 1446.5,511.7 1451.6,505.9 1456.8,502.4 1462.0,495.5 1467.1,493.0 1472.3,503.4 1477.5,508.6 1482.6,493.8 1487.8,483.4 1493.0,497.6 1498.1,509.4 1503.3,493.0 1508.5,480.3 1513.6,490.3 1518.8,486.6 1524.0,464.9 1529.2,464.3 1534.3,476.2 1539.5,470.1 1544.7,458.1 1549.8,462.6 1555.0,474.1 1560.2,478.9 1565.3,482.0 1570.5,487.2 1575.7,487.2 1580.8,487.2 1586.0,489.3 1591.2,487.6 1596.3,491.3 1601.5,510.1 1606.7,523.6 1611.9,511.5 1617.0,496.5 1622.2,496.5 1627.4,505.3 1632.5,512.8 1637.7,518.0 1642.9,518.4 1648.0,508.4 1653.2,495.6 1658.4,496.6 1663.5,499.4 1668.7,480.3 1673.9,462.6 1679.1,479.2 1684.2,505.8 1689.4,498.8 1694.6,478.1 1699.7,482.8 1704.9,499.8 1710.1,500.0 1715.2,501.1 1720.4,520.0 1725.6,523.4 1730.7,494.7 1735.9,480.3 1741.1,494.5 1746.2,498.8 1751.4,481.3 1756.6,475.6 1761.8,494.5 1766.9,506.8 1772.1,497.3 1777.3,489.2 1782.4,492.0 1787.6,497.3 1792.8,503.6 1797.9,510.0 1803.1,511.5 1808.3,506.2 1813.4,502.2 1818.6,499.0 1823.8,487.1 1828.9,478.6 1834.1,480.7 1839.3,479.6 1844.5,483.9 1849.6,499.8 1854.8,507.5 1860.0,498.3 1865.1,487.7 1870.3,483.9 1875.5,487.3 1880.6,497.3 1885.8,504.3 1891.0,497.3 1896.1,492.0 1901.3,498.3 1906.5,503.6 1911.6,504.7 1916.8,504.3 1922.0,503.6 1927.2,502.6 1932.3,497.7 1937.5,494.1 1942.7,498.3 1947.8,501.5 1953.0,497.3 1958.2,488.1 1963.3,483.5 1968.5,483.0 1973.7,481.3 1978.8,484.5 1984.0,493.4 1989.2,494.1 1994.3,486.0 1999.5,482.8 2004.7,486.6 2009.9,486.0 2015.0,478.6 2020.2,476.0 2025.4,488.8 2030.5,503.0 2035.7,498.8 2040.9,480.7 2046.0,474.3 2051.2,485.6 2056.4,495.6 2061.5,492.4 2066.7,484.1 2071.9,479.2 2077.0,483.5 2082.2,494.1 2087.4,497.3 2092.6,493.4 2097.7,499.4 2102.9,514.7 2108.1,519.6 2113.2,509.0"/>
<polyline stroke="#464646" points="304.1,617.5 309.3,615.9 314.5,614.8 319.7,613.4 324.8,613.0 330.0,614.4 335.2,615.9 340.3,616.5 345.5,617.1 350.7,617.5 355.8,616.5 361.0,614.8 366.2,614.8 371.3,616.1 376.5,616.9 381.7,616.9 386.9,616.5 392.0,616.1 397.2,615.5 402.4,614.4 407.5,616.5 412.7,619.6 417.9,618.2 423.0,613.4 428.2,611.9 433.4,615.5 438.5,618.6 443.7,618.0 448.9,615.0 454.0,611.3 459.2,608.6 464.4,610.7 469.6,614.4 474.7,613.8 479.9,614.8 485.1,622.1 490.2,626.3 495.4,620.7 500.6,615.9 505.7,619.0 510.9,621.1 516.1,614.4 521.2,607.8 526.4,611.3 531.6,618.2 536.7,620.0 541.9,621.1 547.1,622.7 552.3,619.6 557.4,612.3 562.6,609.2 567.8,611.3 572.9,609.8 578.1,605.7 583.3,607.1 588.4,616.5 593.6,623.4 598.8,621.3 603.9,618.6 609.1,619.2 614.3,619.2 619.4,618.6 624.6,620.7 629.8,619.2 635.0,612.8 640.1,607.6 645.3,610.7 650.5,614.4 655.6,611.3 660.8,610.7 666.0,618.6 671.1,626.5 676.3,625.9 681.5,622.7 686.6,622.7 691.8,622.1 697.0,614.0 702.1,605.1 707.3,605.7 712.5,613.0 717.7,614.4 722.8,608.8 728.0,609.2 733.2,614.4 738.3,614.4 743.5,611.9 748.7,614.4 753.8,616.9 759.0,614.4 764.2,614.4 769.3,623.2 774.5,631.5 779.7,629.0 784.8,624.2 790.0,625.2 795.2,623.8 800.4,615.0 805.5,611.3 810.7,613.0 815.9,609.8 821.0,606.5 826.2,610.9 831.4,616.9 836.5,617.5 841.7,613.8 846.9,613.4 852.0,615.5 857.2,613.0 862.4,607.8 867.5,609.6 872.7,618.2 877.9,621.7 883.1,618.0 888.2,616.1 893.4,619.2 898.6,620.0 903.7,617.5 908.9,616.5 914.1,615.9 919.2,613.0 924.4,611.9 929.6,614.4 934.7,616.5 939.9,615.5 945.1,612.3 950.2,608.2 955.4,606.1 960.6,607.1 965.8,609.8 970.9,609.8 976.1,606.7 981.3,608.2 986.4,614.8 991.6,619.2 996.8,618.2 1001.9,619.6 1007.1,625.2 1012.3,627.3 1017.4,622.7 1022.6,619.0 1027.8,618.0 1033.0,616.5 1038.1,613.4 1043.3,614.0 1048.5,618.0 1053.6,618.6 1058.8,618.0 1064.0,623.8 1069.1,630.4 1074.3,633.1 1079.5,635.8 1084.6,639.4 1089.8,643.5 1095.0,648.7 1100.1,653.9 1105.3,656.4 1110.5,650.2 1115.7,638.3 1120.8,624.8 1126.0,610.3 1131.2,593.2 1136.3,576.6 1141.5,563.1 1146.7,553.5 1151.8,548.9 1157.0,551.4 1162.2,555.2 1167.3,558.3 1172.5,567.2 1177.7,583.6 1182.8,599.9 1188.0,612.8 1193.2,626.3 1198.4,638.8 1203.5,645.6 1208.7,643.1 1213.9,637.3 1219.0,631.1 1224.2,624.8 1229.4,622.1 1234.5,627.5 1239.7,634.8 1244.9,638.8 1250.0,642.9 1255.2,648.7 1260.4,651.4 1265.5,646.0 1270.7,639.4 1275.9,633.6 1281.1,626.3 1286.2,620.0 1291.4,621.3 1296.6,625.9 1301.7,623.8 1306.9,615.9 1312.1,610.7 1317.2,609.2 1322.4,606.5 1327.6,605.1 1332.7,609.8 1337.9,611.7 1343.1,600.5 1348.2,590.1 1353.4,587.4 1358.6,585.3 1363.8,580.7 1368.9,584.3 1374.1,597.8 1379.3,611.3 1384.4,620.0 1389.6,630.0 1394.8,640.8 1399.9,643.1 1405.1,638.3 1410.3,637.3 1415.4,638.3 1420.6,629.4 1425.8,616.1 1430.9,610.9 1436.1,608.6 1441.3,602.4 1446.5,596.7 1451.6,598.4 1456.8,603.4 1462.0,607.8 1467.1,612.3 1472.3,618.6 1477.5,624.8 1482.6,624.2 1487.8,619.6 1493.0,616.9 1498.1,615.5 1503.3,614.0 1508.5,610.3 1513.6,607.8 1518.8,611.3 1524.0,617.5 1529.2,620.7 1534.3,622.7 1539.5,625.2 1544.7,627.9 1549.8,630.0 1555.0,630.6 1560.2,631.5 1565.3,631.1 1570.5,625.2 1575.7,618.2 1580.8,616.1 1586.0,616.1 1591.2,611.3 1596.3,606.1 1601.5,605.1 1606.7,604.4 1611.9,601.9 1617.0,600.3 1622.2,600.5 1627.4,603.0 1632.5,607.8 1637.7,611.9 1642.9,615.0 1648.0,617.5 1653.2,618.3 1658.4,620.0 1663.5,622.1 1668.7,622.5 1673.9,621.0 1679.1,620.0 1684.2,620.0 1689.4,619.8 1694.6,620.4 1699.7,621.9 1704.9,621.0 1710.1,617.2 1715.2,613.6 1720.4,613.4 1725.6,617.6 1730.7,620.4 1735.9,618.3 1741.1,616.1 1746.2,618.3 1751.4,620.0 1756.6,619.3 1761.8,617.2 1766.9,616.6 1772.1,617.2 1777.3,617.6 1782.4,615.7 1787.6,612.5 1792.8,612.3 1797.9,610.8 1803.1,603.8 1808.3,598.1 1813.4,598.5 1818.6,601.9 1823.8,604.9 1828.9,609.3 1834.1,613.6 1839.3,614.4 1844.5,616.8 1849.6,621.5 1854.8,624.0 1860.0,623.2 1865.1,620.4 1870.3,616.8 1875.5,614.7 1880.6,615.1 1885.8,617.2 1891.0,619.3 1896.1,620.4 1901.3,620.8 1906.5,622.5 1911.6,624.6 1916.8,626.1 1922.0,625.7 1927.2,624.6 1932.3,622.5 1937.5,619.3 1942.7,618.3 1947.8,620.0 1953.0,619.8 1958.2,616.8 1963.3,616.6 1968.5,621.5 1973.7,624.0 1978.8,620.0 1984.0,617.2 1989.2,617.2 1994.3,615.5 1999.5,611.9 2004.7,607.6 2009.9,602.8 2015.0,600.2 2020.2,599.8 2025.4,600.2 2030.5,601.9 2035.7,607.0 2040.9,612.3 2046.0,615.7 2051.2,618.3 2056.4,620.8 2061.5,621.5 2066.7,620.4 2071.9,621.0 2077.0,622.1 2082.2,620.8 2087.4,618.9 2092.6,618.3 2097.7,617.8 2102.9,615.7 2108.1,615.1 2113.2,616.1"/>
<polyline stroke="#464646" points="304.1,729.1 309.3,732.7 314.5,737.5 319.7,739.5 324.8,744.7 330.0,749.3 335.2,746.4 340.3,736.4 345.5,719.8 350.7,708.8 355.8,713.1 361.0,721.9 366.2,735.4 371.3,753.5 376.5,760.3 381.7,747.9 386.9,734.3 392.0,729.1 397.2,729.6 402.4,729.8 407.5,729.4 412.7,731.2 417.9,736.4 423.0,742.2 428.2,741.0 433.4,734.3 438.5,732.9 443.7,733.9 448.9,732.9 454.0,736.8 459.2,743.1 464.4,739.5 469.6,732.9 474.7,736.4 479.9,742.7 485.1,738.5 490.2,730.2 495.4,733.3 500.6,740.2 505.7,739.5 510.9,740.0 516.1,746.4 521.2,740.2 526.4,716.7 531.6,708.3 536.7,725.0 541.9,735.4 547.1,736.4 552.3,753.7 557.4,772.2 562.6,760.3 567.8,745.8 572.9,749.5 578.1,741.6 583.3,716.7 588.4,719.8 593.6,749.5 598.8,755.6 603.9,729.8 609.1,721.5 614.3,734.8 619.4,735.4 624.6,727.5 629.8,735.0 635.0,749.5 640.1,748.5 645.3,741.2 650.5,748.3 655.6,755.1 660.8,735.4 666.0,716.7 671.1,736.0 676.3,765.5 681.5,757.2 686.6,727.1 691.8,714.2 697.0,712.9 702.1,712.9 707.3,725.0 712.5,747.9 717.7,762.0 722.8,759.7 728.0,750.4 733.2,743.1 738.3,742.0 743.5,745.8 748.7,746.4 753.8,739.5 759.0,735.4 764.2,737.5 769.3,741.6 774.5,742.2 779.7,733.9 784.8,720.8 790.0,713.5 795.2,722.9 800.4,737.9 805.5,741.2 810.7,733.3 815.9,730.6 821.0,740.6 826.2,751.4 831.4,753.1 836.5,753.1 841.7,752.4 846.9,740.6 852.0,729.8 857.2,734.3 862.4,735.4 867.5,719.8 872.7,716.7 877.9,732.7 883.1,736.0 888.2,727.5 893.4,737.0 898.6,752.0 903.7,740.2 908.9,719.2 914.1,718.3 919.2,732.3 924.4,730.6 929.6,721.5 934.7,735.4 939.9,763.5 945.1,771.4 950.2,767.6 955.4,780.5 960.6,782.8 965.8,744.7 970.9,708.3 976.1,696.9 981.3,698.4 986.4,698.0 991.6,705.2 996.8,719.8 1001.9,722.3 1007.1,716.3 1012.3,725.6 1017.4,744.1 1022.6,744.7 1027.8,730.2 1033.0,731.2 1038.1,744.7 1043.3,745.4 1048.5,742.7 1053.6,756.6 1058.8,766.2 1064.0,753.1 1069.1,744.3 1074.3,756.2 1079.5,767.6 1084.6,758.3 1089.8,740.6 1095.0,732.3 1100.1,726.0 1105.3,725.4 1110.5,746.8 1115.7,770.1 1120.8,767.2 1126.0,760.3 1131.2,771.4 1136.3,773.4 1141.5,751.0 1146.7,733.7 1151.8,735.8 1157.0,739.1 1162.2,732.7 1167.3,725.0 1172.5,720.2 1177.7,699.0 1182.8,670.9 1188.0,670.3 1193.2,690.0 1198.4,692.1 1203.5,684.4 1208.7,694.4 1213.9,715.6 1219.0,732.7 1224.2,740.6 1229.4,749.9 1234.5,766.6 1239.7,771.2 1244.9,754.1 1250.0,735.0 1255.2,732.7 1260.4,740.6 1265.5,744.1 1270.7,753.1 1275.9,764.5 1281.1,755.8 1286.2,738.5 1291.4,741.2 1296.6,762.0 1301.7,770.1 1306.9,758.7 1312.1,754.1 1317.2,766.2 1322.4,774.5 1327.6,774.9 1332.7,780.1 1337.9,788.4 1343.1,780.5 1348.2,767.2 1353.4,765.5 1358.6,759.3 1363.8,731.2 1368.9,708.3 1374.1,708.3 1379.3,701.1 1384.4,681.7 1389.6,677.2 1394.8,688.0 1399.9,692.1 1405.1,687.1 1410.3,685.1 1415.4,699.6 1420.6,723.5 1425.8,732.7 1430.9,728.5 1436.1,737.0 1441.3,754.5 1446.5,749.5 1451.6,734.3 1456.8,736.0 1462.0,737.9 1467.1,723.3 1472.3,716.0 1477.5,723.5 1482.6,726.4 1487.8,724.6 1493.0,739.1 1498.1,761.8 1503.3,771.8 1508.5,777.0 1513.6,791.9 1518.8,800.5 1524.0,783.2 1529.2,765.1 1534.3,759.9 1539.5,746.8 1544.7,723.9 1549.8,721.2 1555.0,735.4 1560.2,733.9 1565.3,718.3 1570.5,717.7 1575.7,729.6 1580.8,731.2 1586.0,725.6 1591.2,720.8 1596.3,713.1 1601.5,707.9 1606.7,719.8 1611.9,740.2 1617.0,746.8 1622.2,745.8 1627.4,757.6 1632.5,772.4 1637.7,763.5 1642.9,732.3 1648.0,715.2 1653.2,719.7 1658.4,724.8 1663.5,721.8 1668.7,719.4 1673.9,723.7 1679.1,733.9 1684.2,743.9 1689.4,749.8 1694.6,746.6 1699.7,732.2 1704.9,719.0 1710.1,718.4 1715.2,726.9 1720.4,740.3 1725.6,754.7 1730.7,764.7 1735.9,766.2 1741.1,756.6 1746.2,740.3 1751.4,725.4 1756.6,721.1 1761.8,724.8 1766.9,724.3 1772.1,725.4 1777.3,744.9 1782.4,767.3 1787.6,759.4 1792.8,739.8 1797.9,742.4 1803.1,752.0 1808.3,745.2 1813.4,737.5 1818.6,743.5 1823.8,754.1 1828.9,756.2 1834.1,753.0 1839.3,747.3 1844.5,732.8 1849.6,719.4 1854.8,722.2 1860.0,727.1 1865.1,714.1 1870.3,707.8 1875.5,724.3 1880.6,738.6 1885.8,727.5 1891.0,715.2 1896.1,728.2 1901.3,744.1 1906.5,732.8 1911.6,720.7 1916.8,736.4 1922.0,754.1 1927.2,750.3 1932.3,740.7 1937.5,744.9 1942.7,747.7 1947.8,730.3 1953.0,715.2 1958.2,722.2 1963.3,740.9 1968.5,749.4 1973.7,750.9 1978.8,761.9 1984.0,773.6 1989.2,763.0 1994.3,750.9 1999.5,750.9 2004.7,749.8 2009.9,744.5 2015.0,741.3 2020.2,738.8 2025.4,735.0 2030.5,734.3 2035.7,741.3 2040.9,743.0 2046.0,726.5 2051.2,714.8 2056.4,730.1 2061.5,749.8 2066.7,746.0 2071.9,731.3 2077.0,733.5 2082.2,748.8 2087.4,750.3 2092.6,741.8 2097.7,741.3 2102.9,743.0 2108.1,728.6 2113.2,707.3"/>
<polyline stroke="#464646" points="304.1,859.9 309.3,869.9 314.5,867.4 319.7,860.5 324.8,859.5 330.0,851.6 335.2,850.8 340.3,859.5 345.5,856.4 350.7,858.0 355.8,873.6 361.0,870.9 366.2,851.2 371.3,852.6 376.5,870.5 381.7,871.6 386.9,857.4 392.0,850.6 397.2,860.1 402.4,861.6 407.5,840.8 412.7,835.6 417.9,863.2 423.0,880.3 428.2,864.7 433.4,856.0 438.5,862.2 443.7,865.3 448.9,863.7 454.0,861.2 459.2,858.5 464.4,854.7 469.6,859.9 474.7,866.2 479.9,850.1 485.1,837.7 490.2,863.7 495.4,881.8 500.6,854.3 505.7,842.5 510.9,868.2 516.1,872.0 521.2,853.7 526.4,856.8 531.6,865.7 536.7,855.8 541.9,844.5 547.1,851.8 552.3,868.4 557.4,869.3 562.6,857.0 567.8,856.0 572.9,858.5 578.1,852.8 583.3,853.3 588.4,863.7 593.6,870.3 598.8,863.0 603.9,851.2 609.1,849.5 614.3,856.0 619.4,862.2 624.6,867.8 629.8,866.4 635.0,853.3 640.1,835.6 645.3,833.5 650.5,856.4 655.6,882.4 660.8,877.2 666.0,865.1 671.1,879.9 676.3,889.2 681.5,855.3 686.6,821.4 691.8,827.7 697.0,865.7 702.1,880.7 707.3,864.3 712.5,852.8 717.7,859.5 722.8,861.0 728.0,849.1 733.2,856.4 738.3,874.5 743.5,860.5 748.7,840.8 753.8,856.4 759.0,878.2 764.2,858.5 769.3,835.6 774.5,859.5 779.7,883.0 784.8,863.0 790.0,853.3 795.2,872.0 800.4,860.1 805.5,835.6 810.7,848.1 815.9,865.1 821.0,850.1 826.2,842.2 831.4,867.8 836.5,899.6 841.7,895.9 846.9,865.7 852.0,851.8 857.2,849.5 862.4,833.5 867.5,828.9 872.7,856.4 877.9,888.0 883.1,894.9 888.2,872.0 893.4,843.5 898.6,838.7 903.7,857.4 908.9,863.7 914.1,839.7 919.2,823.1 924.4,840.8 929.6,867.2 934.7,874.5 939.9,876.6 945.1,875.5 950.2,870.5 955.4,869.9 960.6,872.0 965.8,863.7 970.9,852.2 976.1,844.9 981.3,842.5 986.4,853.7 991.6,868.2 996.8,859.5 1001.9,843.5 1007.1,858.5 1012.3,878.2 1017.4,863.2 1022.6,842.2 1027.8,841.4 1033.0,851.2 1038.1,858.9 1043.3,863.7 1048.5,867.4 1053.6,868.4 1058.8,862.6 1064.0,858.0 1069.1,864.3 1074.3,874.1 1079.5,867.4 1084.6,853.9 1089.8,850.1 1095.0,844.9 1100.1,839.1 1105.3,842.2 1110.5,843.3 1115.7,839.7 1120.8,845.4 1126.0,858.5 1131.2,867.4 1136.3,869.3 1141.5,872.0 1146.7,876.6 1151.8,873.0 1157.0,858.0 1162.2,842.2 1167.3,847.0 1172.5,869.9 1177.7,883.4 1182.8,872.6 1188.0,856.4 1193.2,844.3 1198.4,847.6 1203.5,878.2 1208.7,896.5 1213.9,874.1 1219.0,848.7 1224.2,844.3 1229.4,858.5 1234.5,874.1 1239.7,875.7 1244.9,885.1 1250.0,892.8 1255.2,872.0 1260.4,864.3 1265.5,890.7 1270.7,890.3 1275.9,849.1 1281.1,813.3 1286.2,841.8 1291.4,858.9 1296.6,825.8 1301.7,805.0 1306.9,809.6 1312.1,801.3 1317.2,792.3 1322.4,799.2 1327.6,814.8 1332.7,836.6 1337.9,862.6 1343.1,880.9 1348.2,878.8 1353.4,877.8 1358.6,892.4 1363.8,903.8 1368.9,898.6 1374.1,891.7 1379.3,893.4 1384.4,894.9 1389.6,875.1 1394.8,847.0 1399.9,857.0 1405.1,886.1 1410.3,890.1 1415.4,877.8 1420.6,868.9 1425.8,860.5 1430.9,858.5 1436.1,869.9 1441.3,872.6 1446.5,857.0 1451.6,847.6 1456.8,855.3 1462.0,880.3 1467.1,899.4 1472.3,876.8 1477.5,853.9 1482.6,852.6 1487.8,859.5 1493.0,863.2 1498.1,856.4 1503.3,838.7 1508.5,822.7 1513.6,824.6 1518.8,840.2 1524.0,843.9 1529.2,837.3 1534.3,838.1 1539.5,843.3 1544.7,847.0 1549.8,846.4 1555.0,836.6 1560.2,836.0 1565.3,857.4 1570.5,873.0 1575.7,860.5 1580.8,842.2 1586.0,844.5 1591.2,863.7 1596.3,866.4 1601.5,862.6 1606.7,878.2 1611.9,890.3 1617.0,878.8 1622.2,861.6 1627.4,857.8 1632.5,877.2 1637.7,892.8 1642.9,861.6 1648.0,830.4 1653.2,844.3 1658.4,885.7 1663.5,883.6 1668.7,856.0 1673.9,851.3 1679.1,865.5 1684.2,870.4 1689.4,857.0 1694.6,837.3 1699.7,836.2 1704.9,852.8 1710.1,862.3 1715.2,861.3 1720.4,858.1 1725.6,857.0 1730.7,862.3 1735.9,865.1 1741.1,860.8 1746.2,858.7 1751.4,856.0 1756.6,846.8 1761.8,846.0 1766.9,853.4 1772.1,857.7 1777.3,859.6 1782.4,851.3 1787.6,845.3 1792.8,867.6 1797.9,890.0 1803.1,877.6 1808.3,851.7 1813.4,843.6 1818.6,855.5 1823.8,868.3 1828.9,865.5 1834.1,848.5 1839.3,835.8 1844.5,846.4 1849.6,861.3 1854.8,863.4 1860.0,870.4 1865.1,888.9 1870.3,877.2 1875.5,846.0 1880.6,849.2 1885.8,870.8 1891.0,861.3 1896.1,851.1 1901.3,861.9 1906.5,856.0 1911.6,839.6 1916.8,845.3 1922.0,860.2 1927.2,874.0 1932.3,880.4 1937.5,868.3 1942.7,857.0 1947.8,857.0 1953.0,859.6 1958.2,859.6 1963.3,862.8 1968.5,876.6 1973.7,877.6 1978.8,849.6 1984.0,831.1 1989.2,841.1 1994.3,850.2 1999.5,850.0 2004.7,853.2 2009.9,856.0 2015.0,852.3 2020.2,848.9 2025.4,853.2 2030.5,861.3 2035.7,862.8 2040.9,858.7 2046.0,864.5 2051.2,875.5 2056.4,875.1 2061.5,861.3 2066.7,850.6 2071.9,853.2 2077.0,851.3 2082.2,845.3 2087.4,866.2 2092.6,883.6 2097.7,866.6 2102.9,858.1 2108.1,871.9 2113.2,886.8"/>
<polyline stroke="#464646" points="304.1,985.2 309.3,986.3 314.5,979.0 319.7,977.3 324.8,978.4 330.0,977.3 335.2,978.4 340.3,982.5 345.5,983.6 350.7,976.3 355.8,974.2 361.0,984.0 366.2,987.1 371.3,976.9 376.5,974.6 381.7,984.2 386.9,985.7 392.0,973.2 397.2,968.6 402.4,978.4 407.5,984.6 412.7,984.6 417.9,987.1 423.0,987.1 428.2,975.3 433.4,968.4 438.5,981.5 443.7,994.4 448.9,989.8 454.0,977.3 459.2,975.7 464.4,985.0 469.6,990.4 474.7,985.7 479.9,980.5 485.1,978.4 490.2,982.5 495.4,995.6 500.6,997.7 505.7,977.3 510.9,961.3 516.1,969.6 521.2,988.8 526.4,998.6 531.6,994.6 536.7,981.5 541.9,979.4 547.1,985.0 552.3,984.2 557.4,984.6 562.6,987.3 567.8,980.5 572.9,964.9 578.1,952.4 583.3,946.2 588.4,947.2 593.6,960.7 598.8,985.7 603.9,1014.4 609.1,1035.6 614.3,1025.2 619.4,991.9 624.6,969.0 629.8,967.6 635.0,967.4 640.1,967.4 645.3,975.9 650.5,983.2 655.6,981.9 660.8,978.8 666.0,971.7 671.1,970.7 676.3,986.3 681.5,995.4 686.6,993.4 691.8,994.4 697.0,981.5 702.1,965.9 707.3,980.0 712.5,1005.8 717.7,999.2 722.8,966.9 728.0,950.9 733.2,962.8 738.3,970.1 743.5,945.1 748.7,920.8 753.8,946.2 759.0,1008.5 764.2,1039.1 769.3,1036.2 774.5,1023.1 779.7,987.7 784.8,955.9 790.0,961.3 795.2,978.0 800.4,974.8 805.5,973.2 810.7,979.4 815.9,987.1 821.0,996.5 826.2,994.4 831.4,990.4 836.5,1000.8 841.7,994.6 846.9,967.6 852.0,962.2 857.2,968.0 862.4,947.2 867.5,927.9 872.7,950.3 877.9,987.7 883.1,1002.3 888.2,999.2 893.4,999.6 898.6,1001.3 903.7,1004.4 908.9,1011.2 914.1,1006.0 919.2,987.7 924.4,973.2 929.6,967.4 934.7,963.8 939.9,960.1 945.1,955.1 950.2,951.3 955.4,953.0 960.6,966.9 965.8,986.7 970.9,997.7 976.1,997.1 981.3,999.2 986.4,1006.5 991.6,1012.3 996.8,1012.7 1001.9,1007.9 1007.1,1000.8 1012.3,996.1 1017.4,990.2 1022.6,977.3 1027.8,961.7 1033.0,945.7 1038.1,938.5 1043.3,953.4 1048.5,966.5 1053.6,956.5 1058.8,951.3 1064.0,961.7 1069.1,961.3 1074.3,946.2 1079.5,952.0 1084.6,983.0 1089.8,990.9 1095.0,976.9 1100.1,986.3 1105.3,1003.8 1110.5,1001.3 1115.7,994.0 1120.8,988.8 1126.0,990.4 1131.2,1006.0 1136.3,1008.5 1141.5,998.6 1146.7,998.8 1151.8,989.8 1157.0,968.4 1162.2,970.5 1167.3,992.9 1172.5,995.0 1177.7,973.2 1182.8,967.6 1188.0,994.4 1193.2,1005.8 1198.4,989.2 1203.5,990.9 1208.7,1014.4 1213.9,1019.6 1219.0,995.0 1224.2,971.7 1229.4,978.8 1234.5,999.2 1239.7,985.2 1244.9,955.5 1250.0,953.4 1255.2,955.5 1260.4,931.6 1265.5,913.9 1270.7,923.7 1275.9,940.5 1281.1,946.2 1286.2,943.0 1291.4,954.5 1296.6,974.2 1301.7,980.0 1306.9,982.5 1312.1,991.9 1317.2,998.6 1322.4,996.1 1327.6,987.7 1332.7,989.8 1337.9,1007.1 1343.1,1022.1 1348.2,1019.6 1353.4,1006.0 1358.6,994.6 1363.8,992.5 1368.9,988.8 1374.1,975.9 1379.3,967.4 1384.4,970.7 1389.6,981.5 1394.8,1001.9 1399.9,1032.5 1405.1,1047.4 1410.3,1033.5 1415.4,1019.4 1420.6,1016.4 1425.8,1010.6 1430.9,991.5 1436.1,976.3 1441.3,975.7 1446.5,976.7 1451.6,969.0 1456.8,964.9 1462.0,962.2 1467.1,948.6 1472.3,936.4 1477.5,934.7 1482.6,931.0 1487.8,920.6 1493.0,919.7 1498.1,935.8 1503.3,956.5 1508.5,972.1 1513.6,982.1 1518.8,992.9 1524.0,1000.6 1529.2,1002.9 1534.3,1005.8 1539.5,999.8 1544.7,982.5 1549.8,974.2 1555.0,977.8 1560.2,983.0 1565.3,986.3 1570.5,987.7 1575.7,990.4 1580.8,995.0 1586.0,997.1 1591.2,995.0 1596.3,994.0 1601.5,997.1 1606.7,995.0 1611.9,979.0 1617.0,963.4 1622.2,964.2 1627.4,974.2 1632.5,979.8 1637.7,975.3 1642.9,966.3 1648.0,958.6 1653.2,964.1 1658.4,977.3 1663.5,970.1 1668.7,952.0 1673.9,962.0 1679.1,982.6 1684.2,980.1 1689.4,978.4 1694.6,997.5 1699.7,1008.3 1704.9,1001.3 1710.1,999.2 1715.2,1006.2 1720.4,1014.1 1725.6,1010.9 1730.7,992.2 1735.9,975.2 1741.1,970.1 1746.2,965.8 1751.4,961.4 1756.6,964.1 1761.8,972.6 1766.9,982.8 1772.1,991.1 1777.3,995.6 1782.4,997.1 1787.6,997.1 1792.8,997.7 1797.9,995.0 1803.1,984.3 1808.3,973.7 1813.4,967.3 1818.6,963.7 1823.8,965.8 1828.9,969.5 1834.1,969.0 1839.3,967.3 1844.5,969.0 1849.6,974.8 1854.8,981.8 1860.0,984.3 1865.1,985.4 1870.3,997.1 1875.5,1012.6 1880.6,1008.3 1885.8,988.6 1891.0,975.2 1896.1,972.2 1901.3,971.2 1906.5,969.9 1911.6,974.8 1916.8,980.1 1922.0,974.3 1927.2,969.0 1932.3,975.8 1937.5,984.3 1942.7,987.5 1947.8,989.0 1953.0,987.5 1958.2,982.2 1963.3,978.0 1968.5,973.7 1973.7,966.3 1978.8,958.8 1984.0,959.9 1989.2,965.8 1994.3,966.7 1999.5,967.3 2004.7,974.3 2009.9,975.2 2015.0,962.4 2020.2,961.4 2025.4,983.3 2030.5,1004.5 2035.7,996.4 2040.9,983.9 2046.0,991.3 2051.2,1003.5 2056.4,1002.8 2061.5,992.8 2066.7,983.7 2071.9,980.7 2077.0,985.0 2082.2,991.8 2087.4,999.2 2092.6,1000.7 2097.7,985.4 2102.9,966.3 2108.1,964.6 2113.2,978.0"/>
<polyline stroke="#464646" points="304.1,1086.9 309.3,1092.1 314.5,1112.2 319.7,1104.5 324.8,1084.8 330.0,1095.2 335.2,1117.4 340.3,1112.2 345.5,1091.0 350.7,1100.0 355.8,1115.4 361.0,1092.1 366.2,1077.5 371.3,1116.4 376.5,1130.5 381.7,1101.0 386.9,1100.0 392.0,1109.3 397.2,1081.7 402.4,1063.4 407.5,1096.2 412.7,1122.2 417.9,1118.5 423.0,1128.5 428.2,1119.5 433.4,1065.0 438.5,1062.9 443.7,1137.8 448.9,1158.6 454.0,1084.8 459.2,1041.7 464.4,1109.7 469.6,1159.7 474.7,1111.8 479.9,1069.2 485.1,1113.3 490.2,1130.5 495.4,1080.2 500.6,1083.7 505.7,1126.0 510.9,1108.7 516.1,1080.6 521.2,1104.5 526.4,1122.6 531.6,1086.9 536.7,1081.7 541.9,1129.9 547.1,1125.8 552.3,1093.7 557.4,1117.6 562.6,1117.6 567.8,1065.0 572.9,1077.5 578.1,1132.6 583.3,1105.6 588.4,1071.3 593.6,1120.1 598.8,1158.6 603.9,1107.7 609.1,1063.0 614.3,1074.4 619.4,1096.2 624.6,1103.5 629.8,1109.7 635.0,1116.0 640.1,1107.7 645.3,1101.0 650.5,1110.2 655.6,1109.3 660.8,1092.1 666.0,1087.9 671.1,1101.0 676.3,1107.7 681.5,1101.0 686.6,1094.6 691.8,1093.1 697.0,1102.0 702.1,1110.8 707.3,1107.7 712.5,1107.0 717.7,1108.3 722.8,1102.0 728.0,1094.8 733.2,1092.7 738.3,1096.2 743.5,1105.2 748.7,1111.8 753.8,1107.7 759.0,1094.6 764.2,1088.3 769.3,1094.1 774.5,1102.0 779.7,1106.6 784.8,1105.0 790.0,1101.4 795.2,1105.2 800.4,1110.2 805.5,1106.6 810.7,1096.2 815.9,1092.1 821.0,1100.4 826.2,1109.1 831.4,1102.9 836.5,1100.4 841.7,1119.5 846.9,1122.6 852.0,1090.0 857.2,1072.7 862.4,1100.4 867.5,1112.2 872.7,1091.4 877.9,1098.3 883.1,1114.9 888.2,1098.3 893.4,1084.8 898.6,1098.9 903.7,1113.9 908.9,1111.4 914.1,1091.6 919.2,1082.3 924.4,1105.2 929.6,1121.8 934.7,1112.2 939.9,1109.1 945.1,1117.4 950.2,1112.9 955.4,1105.6 960.6,1102.9 965.8,1093.7 970.9,1085.8 976.1,1092.5 981.3,1099.3 986.4,1101.0 991.6,1103.5 996.8,1105.0 1001.9,1099.8 1007.1,1097.9 1012.3,1108.3 1017.4,1119.5 1022.6,1117.6 1027.8,1109.3 1033.0,1106.2 1038.1,1101.4 1043.3,1094.6 1048.5,1099.3 1053.6,1110.4 1058.8,1111.4 1064.0,1108.7 1069.1,1106.2 1074.3,1097.7 1079.5,1091.6 1084.6,1092.7 1089.8,1095.2 1095.0,1096.6 1100.1,1093.1 1105.3,1091.6 1110.5,1098.7 1115.7,1101.0 1120.8,1100.8 1126.0,1110.4 1131.2,1116.4 1136.3,1107.7 1141.5,1099.3 1146.7,1105.6 1151.8,1113.9 1157.0,1112.9 1162.2,1109.7 1167.3,1105.0 1172.5,1095.8 1177.7,1094.1 1182.8,1100.4 1188.0,1098.3 1193.2,1086.5 1198.4,1084.2 1203.5,1094.6 1208.7,1100.4 1213.9,1092.7 1219.0,1089.4 1224.2,1096.2 1229.4,1104.1 1234.5,1104.5 1239.7,1092.5 1244.9,1081.7 1250.0,1094.1 1255.2,1120.8 1260.4,1137.8 1265.5,1137.4 1270.7,1130.1 1275.9,1129.9 1281.1,1136.8 1286.2,1134.7 1291.4,1125.3 1296.6,1119.7 1301.7,1106.6 1306.9,1085.8 1312.1,1072.7 1317.2,1076.1 1322.4,1084.8 1327.6,1090.0 1332.7,1088.5 1337.9,1087.3 1343.1,1082.7 1348.2,1075.0 1353.4,1082.7 1358.6,1093.5 1363.8,1085.4 1368.9,1079.2 1374.1,1092.5 1379.3,1109.7 1384.4,1123.3 1389.6,1137.2 1394.8,1133.7 1399.9,1099.8 1405.1,1094.6 1410.3,1148.2 1415.4,1169.4 1420.6,1109.7 1425.8,1059.2 1430.9,1076.1 1436.1,1117.0 1441.3,1113.3 1446.5,1077.5 1451.6,1081.7 1456.8,1120.6 1462.0,1128.5 1467.1,1109.3 1472.3,1090.0 1477.5,1073.3 1482.6,1088.9 1487.8,1111.8 1493.0,1102.5 1498.1,1095.2 1503.3,1104.5 1508.5,1106.6 1513.6,1106.2 1518.8,1093.1 1524.0,1069.6 1529.2,1092.5 1534.3,1124.9 1539.5,1094.8 1544.7,1082.7 1549.8,1114.9 1555.0,1091.0 1560.2,1050.1 1565.3,1081.7 1570.5,1128.9 1575.7,1133.7 1580.8,1116.0 1586.0,1087.9 1591.2,1081.7 1596.3,1112.9 1601.5,1137.8 1606.7,1120.8 1611.9,1095.2 1617.0,1089.6 1622.2,1114.5 1627.4,1125.8 1632.5,1094.8 1637.7,1081.7 1642.9,1101.0 1648.0,1115.4 1653.2,1113.8 1658.4,1097.8 1663.5,1090.4 1668.7,1107.4 1673.9,1120.8 1679.1,1109.5 1684.2,1100.4 1689.4,1105.9 1694.6,1108.0 1699.7,1101.7 1704.9,1099.5 1710.1,1098.3 1715.2,1094.2 1720.4,1094.0 1725.6,1096.8 1730.7,1099.3 1735.9,1103.1 1741.1,1102.7 1746.2,1097.2 1751.4,1096.8 1756.6,1104.8 1761.8,1110.6 1766.9,1114.4 1772.1,1121.2 1777.3,1120.1 1782.4,1111.0 1787.6,1105.9 1792.8,1101.0 1797.9,1091.9 1803.1,1094.2 1808.3,1102.5 1813.4,1103.6 1818.6,1100.0 1823.8,1092.9 1828.9,1092.5 1834.1,1108.5 1839.3,1114.2 1844.5,1097.8 1849.6,1090.4 1854.8,1097.2 1860.0,1094.2 1865.1,1089.8 1870.3,1100.6 1875.5,1105.7 1880.6,1094.2 1885.8,1095.3 1891.0,1108.0 1896.1,1106.3 1901.3,1104.2 1906.5,1113.8 1911.6,1113.1 1916.8,1104.6 1922.0,1105.9 1927.2,1100.6 1932.3,1088.3 1937.5,1098.5 1942.7,1117.4 1947.8,1110.6 1953.0,1099.3 1958.2,1106.3 1963.3,1110.6 1968.5,1101.7 1973.7,1094.2 1978.8,1096.1 1984.0,1103.1 1989.2,1107.8 1994.3,1104.2 1999.5,1096.8 2004.7,1095.1 2009.9,1094.6 2015.0,1092.9 2020.2,1094.2 2025.4,1099.5 2030.5,1102.7 2035.7,1098.5 2040.9,1096.1 2046.0,1101.7 2051.2,1102.5 2056.4,1098.9 2061.5,1106.8 2066.7,1114.2 2071.9,1112.7 2077.0,1111.6 2082.2,1116.3 2087.4,1117.0 2092.6,1104.2 2097.7,1091.5 2102.9,1098.3 2108.1,1113.1 2113.2,1110.6"/>
<polyline stroke="#464646" points="304.1,1228.7 309.3,1248.0 314.5,1228.7 319.7,1202.7 324.8,1212.0 330.0,1237.4 335.2,1222.4 340.3,1188.1 345.5,1197.9 350.7,1245.3 355.8,1243.6 361.0,1213.7 366.2,1227.6 371.3,1249.5 376.5,1228.7 381.7,1207.9 386.9,1219.7 392.0,1224.1 397.2,1205.8 402.4,1212.6 407.5,1240.1 412.7,1228.7 417.9,1202.7 423.0,1219.3 428.2,1243.2 433.4,1238.0 438.5,1221.0 443.7,1215.1 448.9,1218.3 454.0,1215.8 459.2,1211.4 464.4,1221.0 469.6,1235.3 474.7,1241.6 479.9,1239.5 485.1,1229.3 490.2,1217.8 495.4,1217.8 500.6,1222.8 505.7,1215.6 510.9,1211.0 516.1,1226.6 521.2,1238.6 526.4,1228.7 531.6,1218.7 536.7,1213.1 541.9,1202.7 547.1,1215.1 552.3,1248.8 557.4,1254.7 562.6,1233.9 567.8,1228.7 572.9,1236.4 578.1,1224.1 583.3,1195.0 588.4,1194.8 593.6,1228.2 598.8,1238.6 603.9,1213.1 609.1,1207.5 614.3,1231.8 619.4,1246.8 624.6,1230.7 629.8,1209.9 635.0,1205.4 640.1,1214.5 645.3,1215.6 650.5,1214.1 655.6,1211.0 660.8,1207.5 666.0,1223.5 671.1,1259.4 676.3,1274.4 681.5,1242.2 686.6,1210.4 691.8,1219.3 697.0,1233.2 702.1,1214.5 707.3,1198.5 712.5,1219.9 717.7,1241.8 722.8,1224.5 728.0,1194.3 733.2,1203.7 738.3,1243.2 743.5,1259.9 748.7,1242.8 753.8,1223.5 759.0,1228.7 764.2,1236.6 769.3,1227.2 774.5,1221.8 779.7,1226.0 784.8,1219.3 790.0,1218.9 795.2,1238.4 800.4,1242.2 805.5,1222.8 810.7,1215.1 815.9,1213.7 821.0,1200.0 826.2,1202.3 831.4,1230.1 836.5,1239.7 841.7,1226.2 846.9,1238.0 852.0,1262.6 857.2,1251.5 862.4,1223.9 867.5,1214.7 872.7,1213.1 877.9,1216.2 883.1,1224.1 888.2,1219.7 893.4,1208.3 898.6,1206.2 903.7,1213.5 908.9,1221.4 914.1,1225.5 919.2,1221.4 924.4,1210.4 929.6,1206.8 934.7,1226.6 939.9,1250.9 945.1,1242.2 950.2,1214.1 955.4,1217.8 960.6,1245.7 965.8,1240.1 970.9,1210.6 976.1,1208.3 981.3,1224.1 986.4,1215.6 991.6,1191.6 996.8,1200.6 1001.9,1231.2 1007.1,1232.8 1012.3,1216.2 1017.4,1219.3 1022.6,1225.5 1027.8,1218.7 1033.0,1221.4 1038.1,1227.6 1043.3,1213.7 1048.5,1202.3 1053.6,1226.0 1058.8,1254.7 1064.0,1254.7 1069.1,1243.2 1074.3,1247.0 1079.5,1253.0 1084.6,1234.9 1089.8,1213.1 1095.0,1201.2 1100.1,1193.9 1105.3,1192.9 1110.5,1202.7 1115.7,1206.4 1120.8,1202.0 1126.0,1206.8 1131.2,1213.5 1136.3,1219.9 1141.5,1240.5 1146.7,1250.5 1151.8,1237.0 1157.0,1228.7 1162.2,1227.2 1167.3,1222.4 1172.5,1222.0 1177.7,1231.8 1182.8,1235.9 1188.0,1230.1 1193.2,1230.7 1198.4,1234.5 1203.5,1231.2 1208.7,1229.3 1213.9,1233.4 1219.0,1234.9 1224.2,1228.7 1229.4,1227.6 1234.5,1239.5 1239.7,1232.8 1244.9,1203.7 1250.0,1205.4 1255.2,1236.4 1260.4,1245.7 1265.5,1227.2 1270.7,1223.0 1275.9,1242.2 1281.1,1248.0 1286.2,1231.8 1291.4,1228.0 1296.6,1232.2 1301.7,1217.2 1306.9,1207.9 1312.1,1207.2 1317.2,1204.1 1322.4,1178.1 1327.6,1174.6 1332.7,1193.7 1337.9,1186.7 1343.1,1164.2 1348.2,1175.6 1353.4,1207.9 1358.6,1221.4 1363.8,1228.0 1368.9,1240.1 1374.1,1234.3 1379.3,1215.1 1384.4,1221.4 1389.6,1255.7 1394.8,1267.8 1399.9,1243.2 1405.1,1236.6 1410.3,1260.9 1415.4,1265.5 1420.6,1247.0 1425.8,1250.1 1430.9,1271.9 1436.1,1268.2 1441.3,1248.0 1446.5,1251.1 1451.6,1266.7 1456.8,1256.7 1462.0,1230.1 1467.1,1221.8 1472.3,1232.4 1477.5,1240.7 1482.6,1244.7 1487.8,1241.6 1493.0,1223.0 1498.1,1204.1 1503.3,1200.2 1508.5,1195.4 1513.6,1182.5 1518.8,1179.8 1524.0,1185.6 1529.2,1180.4 1534.3,1172.1 1539.5,1180.8 1544.7,1191.9 1549.8,1191.6 1555.0,1201.6 1560.2,1222.0 1565.3,1217.6 1570.5,1193.9 1575.7,1191.6 1580.8,1202.7 1586.0,1213.1 1591.2,1225.5 1596.3,1234.3 1601.5,1234.9 1606.7,1243.2 1611.9,1261.9 1617.0,1274.8 1622.2,1282.7 1627.4,1291.0 1632.5,1282.3 1637.7,1249.5 1642.9,1223.5 1648.0,1224.1 1653.2,1245.4 1658.4,1250.7 1663.5,1224.1 1668.7,1200.1 1673.9,1206.1 1679.1,1210.3 1684.2,1195.0 1689.4,1195.9 1694.6,1217.1 1699.7,1218.4 1704.9,1199.1 1710.1,1200.1 1715.2,1228.4 1720.4,1241.1 1725.6,1231.2 1730.7,1226.9 1735.9,1229.5 1741.1,1226.9 1746.2,1229.0 1751.4,1241.1 1756.6,1247.5 1761.8,1234.8 1766.9,1216.3 1772.1,1210.3 1777.3,1216.3 1782.4,1221.0 1787.6,1216.7 1792.8,1208.8 1797.9,1203.5 1803.1,1205.0 1808.3,1217.3 1813.4,1226.9 1818.6,1229.5 1823.8,1239.7 1828.9,1249.2 1834.1,1231.2 1839.3,1213.1 1844.5,1222.0 1849.6,1230.9 1854.8,1216.3 1860.0,1205.4 1865.1,1222.0 1870.3,1241.8 1875.5,1239.4 1880.6,1221.0 1885.8,1212.9 1891.0,1213.1 1896.1,1210.8 1901.3,1214.2 1906.5,1232.6 1911.6,1249.6 1916.8,1251.8 1922.0,1245.4 1927.2,1239.7 1932.3,1233.3 1937.5,1224.1 1942.7,1222.0 1947.8,1229.5 1953.0,1234.3 1958.2,1229.9 1963.3,1216.7 1968.5,1206.5 1973.7,1217.1 1978.8,1231.2 1984.0,1212.9 1989.2,1182.7 1994.3,1180.6 1999.5,1206.5 2004.7,1223.1 2009.9,1213.5 2015.0,1210.3 2020.2,1223.7 2025.4,1228.8 2030.5,1222.0 2035.7,1215.6 2040.9,1215.2 2046.0,1224.8 2051.2,1231.2 2056.4,1216.1 2061.5,1200.1 2066.7,1211.4 2071.9,1235.2 2077.0,1234.8 2082.2,1206.5 2087.4,1193.3 2092.6,1223.1 2097.7,1253.3 2102.9,1240.5 2108.1,1219.5 2113.2,1239.0"/>
<polyline stroke="#464646" points="304.1,1356.9 309.3,1341.3 314.5,1327.8 319.7,1336.1 324.8,1349.0 330.0,1341.7 335.2,1339.2 340.3,1348.6 345.5,1346.9 350.7,1346.5 355.8,1357.3 361.0,1353.2 366.2,1333.4 371.3,1337.1 376.5,1363.1 381.7,1362.1 386.9,1335.7 392.0,1335.1 397.2,1355.2 402.4,1351.7 407.5,1334.0 412.7,1336.5 417.9,1350.0 423.0,1347.5 428.2,1331.9 433.4,1338.2 438.5,1363.6 443.7,1366.7 448.9,1348.6 454.0,1343.8 459.2,1349.2 464.4,1346.5 469.6,1342.3 474.7,1348.0 479.9,1354.2 485.1,1346.1 490.2,1338.2 495.4,1343.0 500.6,1344.4 505.7,1339.2 510.9,1341.3 516.1,1343.4 521.2,1344.0 526.4,1355.2 531.6,1365.8 536.7,1353.8 541.9,1336.7 547.1,1336.7 552.3,1343.8 557.4,1333.0 562.6,1321.5 567.8,1342.3 572.9,1366.9 578.1,1353.2 583.3,1337.1 588.4,1350.7 593.6,1363.8 598.8,1347.5 603.9,1334.4 609.1,1352.7 614.3,1364.8 619.4,1344.0 624.6,1329.9 629.8,1351.1 635.0,1370.0 640.1,1355.4 645.3,1343.8 650.5,1352.7 655.6,1346.5 660.8,1321.5 666.0,1318.4 671.1,1344.0 676.3,1358.4 681.5,1356.5 686.6,1364.8 691.8,1373.5 697.0,1354.8 702.1,1325.3 707.3,1324.7 712.5,1344.8 717.7,1345.5 722.8,1339.2 728.0,1359.6 733.2,1377.1 738.3,1352.7 743.5,1331.9 748.7,1348.0 753.8,1357.9 759.0,1338.2 764.2,1334.4 769.3,1352.3 774.5,1347.5 779.7,1326.1 784.8,1328.8 790.0,1344.0 795.2,1336.1 800.4,1324.0 805.5,1341.3 810.7,1360.4 815.9,1352.3 821.0,1341.7 826.2,1355.2 831.4,1369.8 836.5,1361.1 841.7,1341.9 846.9,1331.5 852.0,1329.5 857.2,1329.5 862.4,1332.4 867.5,1337.1 872.7,1342.3 877.9,1351.1 883.1,1354.2 888.2,1340.9 893.4,1327.8 898.6,1332.4 903.7,1348.6 908.9,1359.0 914.1,1355.9 919.2,1357.3 924.4,1368.3 929.6,1371.0 934.7,1357.9 939.9,1350.0 945.1,1359.0 950.2,1362.5 955.4,1345.5 960.6,1327.2 965.8,1318.0 970.9,1322.0 976.1,1335.1 981.3,1340.9 986.4,1335.1 991.6,1335.5 996.8,1347.1 1001.9,1350.7 1007.1,1343.4 1012.3,1339.2 1017.4,1339.2 1022.6,1340.7 1027.8,1348.2 1033.0,1362.1 1038.1,1371.5 1043.3,1366.3 1048.5,1360.6 1053.6,1357.3 1058.8,1343.4 1064.0,1332.4 1069.1,1346.9 1074.3,1361.5 1079.5,1351.1 1084.6,1333.6 1089.8,1327.2 1095.0,1327.2 1100.1,1330.5 1105.3,1334.6 1110.5,1327.4 1115.7,1314.7 1120.8,1314.9 1126.0,1334.0 1131.2,1353.4 1136.3,1353.2 1141.5,1348.2 1146.7,1352.1 1151.8,1353.4 1157.0,1346.9 1162.2,1355.9 1167.3,1378.7 1172.5,1383.5 1177.7,1378.3 1182.8,1388.7 1188.0,1399.1 1193.2,1382.9 1198.4,1361.1 1203.5,1370.0 1208.7,1386.6 1213.9,1363.1 1219.0,1331.3 1224.2,1324.7 1229.4,1315.9 1234.5,1285.2 1239.7,1278.9 1244.9,1307.6 1250.0,1316.3 1255.2,1298.3 1260.4,1311.6 1265.5,1349.0 1270.7,1341.7 1275.9,1310.1 1281.1,1319.5 1286.2,1340.3 1291.4,1326.3 1296.6,1328.2 1301.7,1375.6 1306.9,1394.3 1312.1,1364.6 1317.2,1359.0 1322.4,1387.1 1327.6,1383.3 1332.7,1344.0 1337.9,1331.3 1343.1,1348.6 1348.2,1345.9 1353.4,1324.7 1358.6,1328.4 1363.8,1355.4 1368.9,1363.8 1374.1,1354.2 1379.3,1354.8 1384.4,1362.1 1389.6,1363.1 1394.8,1365.2 1399.9,1369.4 1405.1,1361.7 1410.3,1343.8 1415.4,1335.5 1420.6,1341.7 1425.8,1340.3 1430.9,1326.1 1436.1,1322.2 1441.3,1331.9 1446.5,1326.7 1451.6,1310.1 1456.8,1310.7 1462.0,1329.9 1467.1,1348.6 1472.3,1351.7 1477.5,1351.1 1482.6,1353.8 1487.8,1356.3 1493.0,1354.4 1498.1,1352.1 1503.3,1355.2 1508.5,1360.0 1513.6,1358.6 1518.8,1350.7 1524.0,1350.2 1529.2,1356.9 1534.3,1350.7 1539.5,1337.8 1544.7,1334.4 1549.8,1330.5 1555.0,1313.2 1560.2,1309.1 1565.3,1334.0 1570.5,1359.0 1575.7,1355.2 1580.8,1346.5 1586.0,1351.7 1591.2,1356.9 1596.3,1350.0 1601.5,1349.2 1606.7,1369.4 1611.9,1384.4 1617.0,1365.2 1622.2,1353.2 1627.4,1373.1 1632.5,1373.1 1637.7,1341.3 1642.9,1333.6 1648.0,1348.6 1653.2,1339.8 1658.4,1323.4 1663.5,1340.8 1668.7,1365.7 1673.9,1358.9 1679.1,1346.1 1684.2,1359.5 1689.4,1365.3 1694.6,1338.7 1699.7,1328.5 1704.9,1355.1 1710.1,1363.8 1715.2,1331.7 1720.4,1314.3 1725.6,1338.7 1730.7,1351.0 1735.9,1323.4 1741.1,1312.6 1746.2,1336.2 1751.4,1343.0 1756.6,1329.6 1761.8,1338.1 1766.9,1354.6 1772.1,1343.0 1777.3,1326.4 1782.4,1340.2 1787.6,1362.1 1792.8,1354.2 1797.9,1341.9 1803.1,1357.4 1808.3,1371.0 1813.4,1350.4 1818.6,1337.0 1823.8,1352.9 1828.9,1357.2 1834.1,1331.7 1839.3,1325.5 1844.5,1351.0 1849.6,1359.3 1854.8,1339.1 1860.0,1333.8 1865.1,1346.1 1870.3,1337.0 1875.5,1320.0 1880.6,1333.4 1885.8,1355.7 1891.0,1340.8 1896.1,1316.0 1901.3,1326.4 1906.5,1354.2 1911.6,1354.6 1916.8,1340.4 1922.0,1351.5 1927.2,1369.1 1932.3,1365.3 1937.5,1360.4 1942.7,1361.7 1947.8,1351.5 1953.0,1339.1 1958.2,1342.3 1963.3,1348.3 1968.5,1336.6 1973.7,1322.8 1978.8,1330.6 1984.0,1351.0 1989.2,1353.2 1994.3,1339.3 1999.5,1338.1 2004.7,1345.1 2009.9,1337.6 2015.0,1328.7 2020.2,1341.5 2025.4,1356.8 2030.5,1352.9 2035.7,1348.3 2040.9,1357.2 2046.0,1361.7 2051.2,1354.2 2056.4,1353.2 2061.5,1362.7 2066.7,1365.9 2071.9,1351.0 2077.0,1336.2 2082.2,1339.8 2087.4,1352.1 2092.6,1353.2 2097.7,1353.6 2102.9,1362.7 2108.1,1363.6 2113.2,1348.3"/>
<polyline stroke="#0000ff" points="304.1,1448.0 309.3,1456.8 314.5,1472.4 319.7,1477.4 324.8,1476.7 330.0,1478.8 335.2,1478.2 340.3,1468.2 345.5,1457.2 350.7,1462.0 355.8,1478.0 361.0,1474.0 366.2,1455.3 371.3,1459.9 376.5,1490.0 381.7,1509.2 386.9,1496.3 392.0,1473.4 397.2,1466.1 402.4,1460.9 407.5,1447.4 412.7,1439.5 417.9,1448.9 423.0,1456.3 428.2,1456.8 433.4,1463.6 438.5,1471.9 443.7,1462.4 448.9,1450.5 454.0,1459.3 459.2,1475.1 464.4,1471.3 469.6,1466.5 474.7,1478.2 479.9,1476.1 485.1,1447.8 490.2,1445.7 495.4,1478.6 500.6,1485.9 505.7,1447.4 510.9,1425.6 516.1,1455.7 521.2,1485.3 526.4,1489.0 531.6,1482.3 536.7,1480.7 541.9,1481.1 547.1,1489.0 552.3,1502.1 557.4,1494.6 562.6,1463.0 567.8,1444.9 572.9,1461.5 578.1,1484.2 583.3,1491.1 588.4,1482.8 593.6,1464.5 598.8,1447.8 603.9,1452.6 609.1,1470.9 614.3,1471.9 619.4,1456.8 624.6,1457.8 629.8,1488.6 635.0,1517.1 640.1,1505.6 645.3,1470.3 650.5,1438.0 655.6,1434.9 660.8,1468.2 666.0,1493.4 671.1,1455.7 676.3,1429.7 681.5,1434.5 686.6,1470.3 691.8,1483.4 697.0,1469.9 702.1,1469.2 707.3,1488.0 712.5,1506.1 717.7,1508.3 722.8,1485.9 728.0,1446.4 733.2,1413.1 738.3,1418.7 743.5,1458.8 748.7,1496.9 753.8,1510.8 759.0,1490.0 764.2,1460.9 769.3,1454.3 774.5,1455.1 779.7,1440.8 784.8,1426.6 790.0,1433.3 795.2,1457.8 800.4,1484.4 805.5,1496.3 810.7,1480.7 815.9,1457.2 821.0,1450.9 826.2,1458.2 831.4,1472.4 836.5,1492.7 841.7,1491.5 846.9,1464.7 852.0,1457.8 857.2,1475.1 862.4,1471.9 867.5,1443.2 872.7,1426.2 877.9,1439.1 883.1,1468.2 888.2,1490.0 893.4,1483.2 898.6,1452.0 903.7,1442.2 908.9,1470.3 914.1,1495.7 919.2,1470.3 924.4,1446.0 929.6,1455.7 934.7,1467.2 939.9,1459.3 945.1,1460.3 950.2,1462.0 955.4,1446.8 960.6,1450.1 965.8,1484.8 970.9,1499.0 976.1,1478.0 981.3,1469.7 986.4,1484.8 991.6,1488.4 996.8,1479.0 1001.9,1475.1 1007.1,1458.2 1012.3,1429.3 1017.4,1441.6 1022.6,1485.5 1027.8,1490.5 1033.0,1461.3 1038.1,1458.2 1043.3,1470.3 1048.5,1469.9 1053.6,1476.1 1058.8,1491.1 1064.0,1485.9 1069.1,1475.1 1074.3,1493.2 1079.5,1514.0 1084.6,1499.4 1089.8,1476.5 1095.0,1468.2 1100.1,1449.5 1105.3,1424.5 1110.5,1420.8 1115.7,1419.7 1120.8,1407.9 1126.0,1415.6 1131.2,1446.4 1136.3,1462.6 1141.5,1461.5 1146.7,1470.7 1151.8,1478.2 1157.0,1470.7 1162.2,1475.1 1167.3,1492.1 1172.5,1480.1 1177.7,1446.0 1182.8,1442.6 1188.0,1473.0 1193.2,1493.2 1198.4,1490.7 1203.5,1497.3 1208.7,1509.8 1213.9,1503.6 1219.0,1505.2 1224.2,1526.8 1229.4,1526.4 1234.5,1493.2 1239.7,1471.9 1244.9,1480.7 1250.0,1484.2 1255.2,1453.6 1260.4,1426.2 1265.5,1422.5 1270.7,1436.6 1275.9,1448.0 1281.1,1449.1 1286.2,1443.7 1291.4,1442.2 1296.6,1455.3 1301.7,1481.3 1306.9,1493.6 1312.1,1479.6 1317.2,1471.7 1322.4,1489.4 1327.6,1502.5 1332.7,1495.7 1337.9,1488.4 1343.1,1484.8 1348.2,1481.1 1353.4,1482.3 1358.6,1482.3 1363.8,1457.8 1368.9,1426.6 1374.1,1428.3 1379.3,1454.3 1384.4,1459.5 1389.6,1441.2 1394.8,1429.3 1399.9,1442.8 1405.1,1465.1 1410.3,1482.8 1415.4,1509.8 1420.6,1535.2 1425.8,1508.8 1430.9,1448.4 1436.1,1429.7 1441.3,1442.2 1446.5,1437.0 1451.6,1429.7 1456.8,1447.8 1462.0,1466.1 1467.1,1464.0 1472.3,1458.2 1477.5,1466.7 1482.6,1475.5 1487.8,1470.7 1493.0,1471.3 1498.1,1485.9 1503.3,1492.1 1508.5,1486.9 1513.6,1494.8 1518.8,1507.3 1524.0,1486.9 1529.2,1444.3 1534.3,1435.6 1539.5,1459.5 1544.7,1470.7 1549.8,1463.0 1555.0,1459.3 1560.2,1469.2 1565.3,1479.0 1570.5,1472.4 1575.7,1462.4 1580.8,1458.8 1586.0,1452.2 1591.2,1445.3 1596.3,1449.1 1601.5,1459.5 1606.7,1464.0 1611.9,1461.5 1617.0,1459.5 1622.2,1460.9 1627.4,1464.7 1632.5,1465.5 1637.7,1458.8 1642.9,1459.3 1648.0,1476.9 1653.2,1483.8 1658.4,1466.8 1663.5,1447.7 1668.7,1452.3 1673.9,1462.5 1679.1,1463.6 1684.2,1465.7 1689.4,1472.1 1694.6,1474.6 1699.7,1467.4 1704.9,1458.7 1710.1,1463.2 1715.2,1483.8 1720.4,1494.8 1725.6,1474.2 1730.7,1447.0 1735.9,1443.4 1741.1,1458.9 1746.2,1466.1 1751.4,1467.4 1756.6,1482.7 1761.8,1497.0 1766.9,1487.4 1772.1,1489.1 1777.3,1516.3 1782.4,1515.2 1787.6,1473.2 1792.8,1449.1 1797.9,1458.3 1803.1,1460.0 1808.3,1455.1 1813.4,1465.7 1818.6,1472.1 1823.8,1459.3 1828.9,1449.8 1834.1,1443.8 1839.3,1431.3 1844.5,1432.4 1849.6,1451.3 1854.8,1456.2 1860.0,1447.7 1865.1,1450.2 1870.3,1459.3 1875.5,1468.9 1880.6,1482.7 1885.8,1495.0 1891.0,1491.6 1896.1,1474.2 1901.3,1461.9 1906.5,1472.5 1911.6,1494.0 1916.8,1502.9 1922.0,1502.9 1927.2,1494.0 1932.3,1463.6 1937.5,1432.1 1942.7,1426.8 1947.8,1455.1 1953.0,1483.4 1958.2,1494.8 1963.3,1492.7 1968.5,1485.9 1973.7,1478.5 1978.8,1469.5 1984.0,1459.8 1989.2,1446.6 1994.3,1437.5 1999.5,1449.8 2004.7,1464.7 2009.9,1460.4 2015.0,1464.7 2020.2,1488.7 2025.4,1487.4 2030.5,1452.5 2035.7,1440.2 2040.9,1463.6 2046.0,1472.7 2051.2,1461.9 2056.4,1468.9 2061.5,1485.5 2066.7,1484.2 2071.9,1477.4 2077.0,1485.9 2082.2,1495.0 2087.4,1474.6 2092.6,1441.9 2097.7,1438.7 2102.9,1464.7 2108.1,1474.9 2113.2,1464.7"/>
</g>
<g stroke-width="8.2" fill="none">
<line x1="665.8" x2="665.8" y1="220.2" y2="280.8" stroke="#ff0000"/>
<line x1="1665.0" x2="1665.0" y1="220.2" y2="280.8" stroke="#00e000"/>
<line x1="1296.2" x2="1296.2" y1="341.8" y2="402.4" stroke="#00e000"/>
<line x1="1280.4" x2="1280.4" y1="463.5" y2="524.1" stroke="#00e000"/>
<line x1="1084.2" x2="1084.2" y1="585.2" y2="645.8" stroke="#00e000"/>
<line x1="1234.0" x2="1234.0" y1="706.8" y2="767.4" stroke="#00e000"/>
<line x1="1276.2" x2="1276.2" y1="828.5" y2="889.1" stroke="#00e000"/>
<line x1="1177.0" x2="1177.0" y1="950.2" y2="1010.8" stroke="#00e000"/>
<line x1="1223.5" x2="1223.5" y1="1071.8" y2="1132.4" stroke="#00e000"/>
<line x1="1306.3" x2="1306.3" y1="1193.5" y2="1254.1" stroke="#00e000"/>
<line x1="1166.5" x2="1166.5" y1="1315.2" y2="1375.8" stroke="#00e000"/>
</g>
<g font-size="41.67" fill="#262626" text-anchor="middle">
<text transform="translate(457.8,1617.2) scale(1,1.015)">-0.2</text>
<text transform="translate(664.5,1617.2) scale(1,1.015)">0</text>
<text transform="translate(872.5,1617.2) scale(1,1.015)">0.2</text>
<text transform="translate(1079.1,1617.2) scale(1,1.015)">0.4</text>
<text transform="translate(1285.8,1617.2) scale(1,1.015)">0.6</text>
<text transform="translate(1492.5,1617.2) scale(1,1.015)">0.8</text>
<text transform="translate(1699.1,1617.2) scale(1,1.015)">1</text>
<text transform="translate(1905.8,1617.2) scale(1,1.015)">1.2</text>
<text transform="translate(2112.5,1617.2) scale(1,1.015)">1.4</text>
</g>
<text x="1207.5" y="96.5" font-size="66.9" fill="#000" text-anchor="middle">608800619.OO.AXAS1.EHE</text>
</svg></body></html>
